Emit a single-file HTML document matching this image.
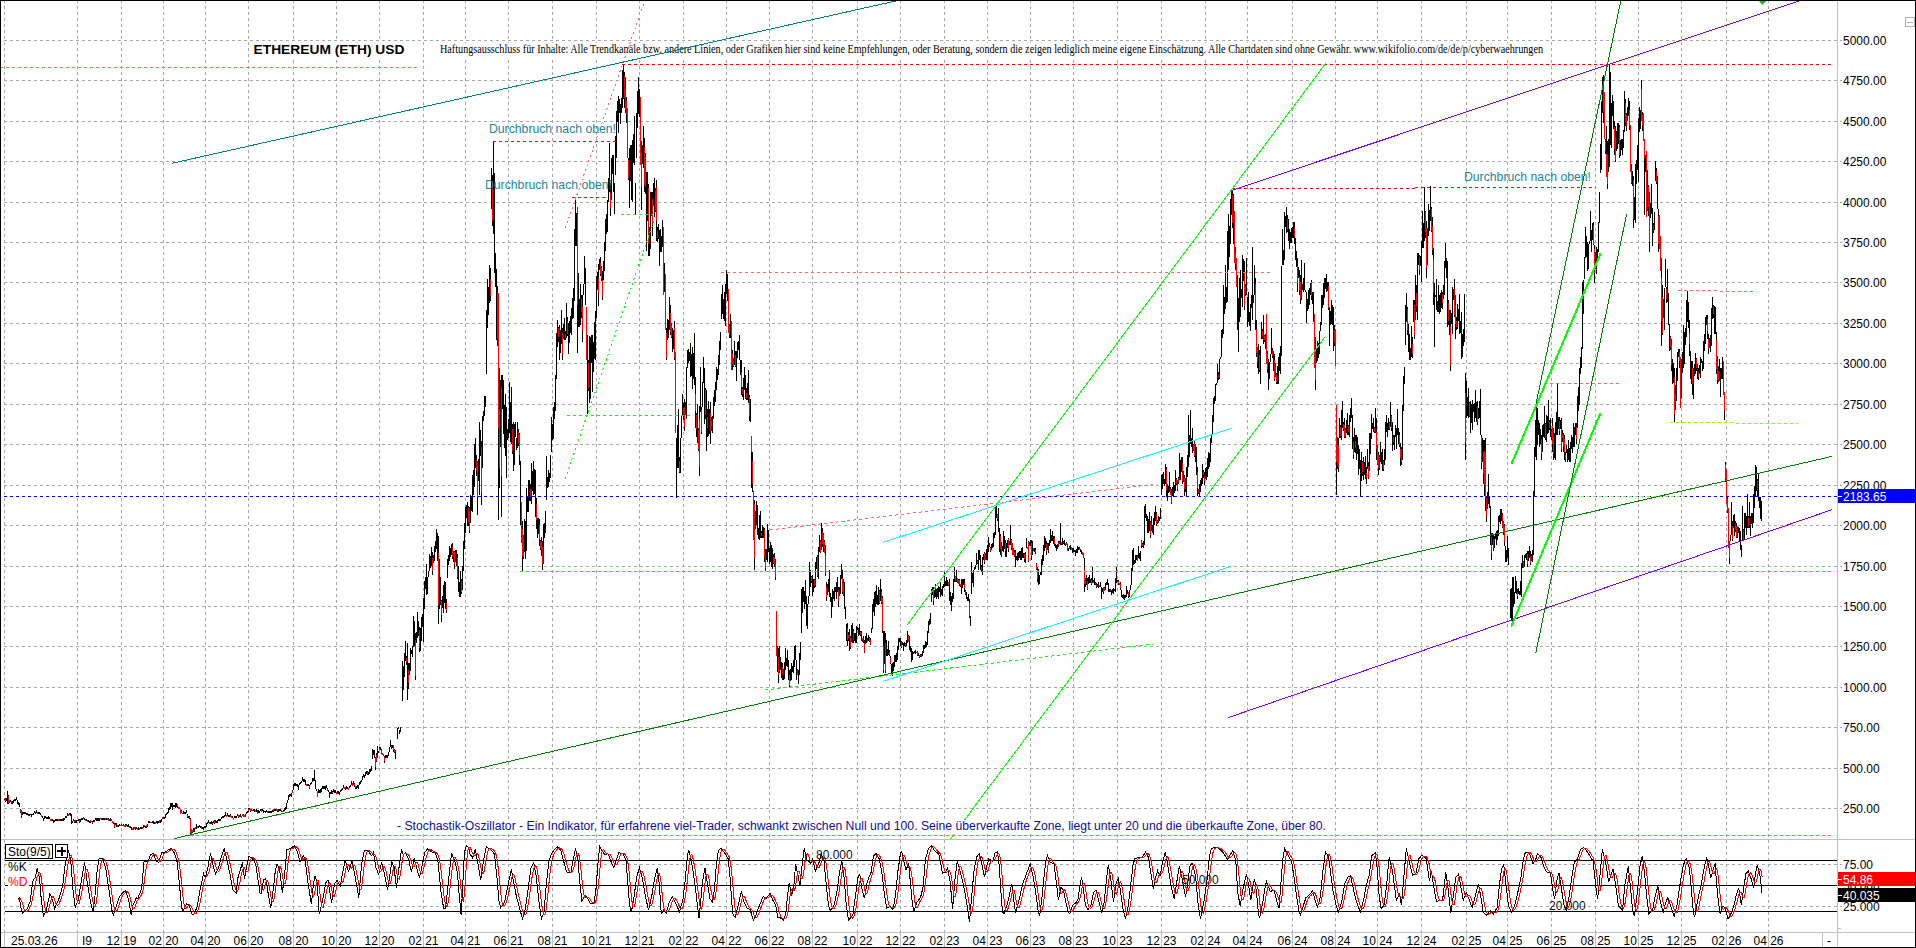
<!DOCTYPE html>
<html><head><meta charset="utf-8"><title>ETHEREUM (ETH) USD</title>
<style>html,body{margin:0;padding:0;background:#fff;overflow:hidden}svg{display:block}</style></head>
<body>
<svg width="1916" height="948" viewBox="0 0 1916 948" shape-rendering="crispEdges" font-family="Liberation Sans, sans-serif">
<rect x="0" y="0" width="1916" height="948" fill="#fff"/>
<line x1="4.5" y1="0" x2="4.5" y2="932" stroke="#a8a8a8" stroke-dasharray="3 3"/>
<line x1="77.5" y1="0" x2="77.5" y2="932" stroke="#a8a8a8" stroke-dasharray="3 3"/>
<line x1="121.5" y1="0" x2="121.5" y2="932" stroke="#a8a8a8" stroke-dasharray="3 3"/>
<line x1="163.5" y1="0" x2="163.5" y2="932" stroke="#a8a8a8" stroke-dasharray="3 3"/>
<line x1="205.5" y1="0" x2="205.5" y2="932" stroke="#a8a8a8" stroke-dasharray="3 3"/>
<line x1="248.5" y1="0" x2="248.5" y2="932" stroke="#a8a8a8" stroke-dasharray="3 3"/>
<line x1="293.5" y1="0" x2="293.5" y2="932" stroke="#a8a8a8" stroke-dasharray="3 3"/>
<line x1="336.5" y1="0" x2="336.5" y2="932" stroke="#a8a8a8" stroke-dasharray="3 3"/>
<line x1="379.5" y1="0" x2="379.5" y2="932" stroke="#a8a8a8" stroke-dasharray="3 3"/>
<line x1="423.5" y1="0" x2="423.5" y2="932" stroke="#a8a8a8" stroke-dasharray="3 3"/>
<line x1="465.5" y1="0" x2="465.5" y2="932" stroke="#a8a8a8" stroke-dasharray="3 3"/>
<line x1="508.5" y1="0" x2="508.5" y2="932" stroke="#a8a8a8" stroke-dasharray="3 3"/>
<line x1="552.5" y1="0" x2="552.5" y2="932" stroke="#a8a8a8" stroke-dasharray="3 3"/>
<line x1="596.5" y1="0" x2="596.5" y2="932" stroke="#a8a8a8" stroke-dasharray="3 3"/>
<line x1="639.5" y1="0" x2="639.5" y2="932" stroke="#a8a8a8" stroke-dasharray="3 3"/>
<line x1="683.5" y1="0" x2="683.5" y2="932" stroke="#a8a8a8" stroke-dasharray="3 3"/>
<line x1="726.5" y1="0" x2="726.5" y2="932" stroke="#a8a8a8" stroke-dasharray="3 3"/>
<line x1="769.5" y1="0" x2="769.5" y2="932" stroke="#a8a8a8" stroke-dasharray="3 3"/>
<line x1="812.5" y1="0" x2="812.5" y2="932" stroke="#a8a8a8" stroke-dasharray="3 3"/>
<line x1="857.5" y1="0" x2="857.5" y2="932" stroke="#a8a8a8" stroke-dasharray="3 3"/>
<line x1="900.5" y1="0" x2="900.5" y2="932" stroke="#a8a8a8" stroke-dasharray="3 3"/>
<line x1="944.5" y1="0" x2="944.5" y2="932" stroke="#a8a8a8" stroke-dasharray="3 3"/>
<line x1="987.5" y1="0" x2="987.5" y2="932" stroke="#a8a8a8" stroke-dasharray="3 3"/>
<line x1="1030.5" y1="0" x2="1030.5" y2="932" stroke="#a8a8a8" stroke-dasharray="3 3"/>
<line x1="1073.5" y1="0" x2="1073.5" y2="932" stroke="#a8a8a8" stroke-dasharray="3 3"/>
<line x1="1117.5" y1="0" x2="1117.5" y2="932" stroke="#a8a8a8" stroke-dasharray="3 3"/>
<line x1="1161.5" y1="0" x2="1161.5" y2="932" stroke="#a8a8a8" stroke-dasharray="3 3"/>
<line x1="1205.5" y1="0" x2="1205.5" y2="932" stroke="#a8a8a8" stroke-dasharray="3 3"/>
<line x1="1247.5" y1="0" x2="1247.5" y2="932" stroke="#a8a8a8" stroke-dasharray="3 3"/>
<line x1="1292.5" y1="0" x2="1292.5" y2="932" stroke="#a8a8a8" stroke-dasharray="3 3"/>
<line x1="1335.5" y1="0" x2="1335.5" y2="932" stroke="#a8a8a8" stroke-dasharray="3 3"/>
<line x1="1377.5" y1="0" x2="1377.5" y2="932" stroke="#a8a8a8" stroke-dasharray="3 3"/>
<line x1="1421.5" y1="0" x2="1421.5" y2="932" stroke="#a8a8a8" stroke-dasharray="3 3"/>
<line x1="1466.5" y1="0" x2="1466.5" y2="932" stroke="#a8a8a8" stroke-dasharray="3 3"/>
<line x1="1507.5" y1="0" x2="1507.5" y2="932" stroke="#a8a8a8" stroke-dasharray="3 3"/>
<line x1="1551.5" y1="0" x2="1551.5" y2="932" stroke="#a8a8a8" stroke-dasharray="3 3"/>
<line x1="1595.5" y1="0" x2="1595.5" y2="932" stroke="#a8a8a8" stroke-dasharray="3 3"/>
<line x1="1638.5" y1="0" x2="1638.5" y2="932" stroke="#a8a8a8" stroke-dasharray="3 3"/>
<line x1="1681.5" y1="0" x2="1681.5" y2="932" stroke="#a8a8a8" stroke-dasharray="3 3"/>
<line x1="1726.5" y1="0" x2="1726.5" y2="932" stroke="#a8a8a8" stroke-dasharray="3 3"/>
<line x1="1768.5" y1="0" x2="1768.5" y2="932" stroke="#a8a8a8" stroke-dasharray="3 3"/>
<line x1="4" y1="808.5" x2="1842" y2="808.5" stroke="#a8a8a8" stroke-dasharray="3 3"/>
<text x="1843" y="812.5" font-size="12" fill="#000">250.00</text>
<line x1="4" y1="768.5" x2="1842" y2="768.5" stroke="#a8a8a8" stroke-dasharray="3 3"/>
<text x="1843" y="772.5" font-size="12" fill="#000">500.00</text>
<line x1="4" y1="727.5" x2="1842" y2="727.5" stroke="#a8a8a8" stroke-dasharray="3 3"/>
<text x="1843" y="731.5" font-size="12" fill="#000">750.00</text>
<line x1="4" y1="687.5" x2="1842" y2="687.5" stroke="#a8a8a8" stroke-dasharray="3 3"/>
<text x="1843" y="691.5" font-size="12" fill="#000">1000.00</text>
<line x1="4" y1="646.5" x2="1842" y2="646.5" stroke="#a8a8a8" stroke-dasharray="3 3"/>
<text x="1843" y="650.5" font-size="12" fill="#000">1250.00</text>
<line x1="4" y1="606.5" x2="1842" y2="606.5" stroke="#a8a8a8" stroke-dasharray="3 3"/>
<text x="1843" y="610.5" font-size="12" fill="#000">1500.00</text>
<line x1="4" y1="566.5" x2="1842" y2="566.5" stroke="#a8a8a8" stroke-dasharray="3 3"/>
<text x="1843" y="570.5" font-size="12" fill="#000">1750.00</text>
<line x1="4" y1="525.5" x2="1842" y2="525.5" stroke="#a8a8a8" stroke-dasharray="3 3"/>
<text x="1843" y="529.5" font-size="12" fill="#000">2000.00</text>
<line x1="4" y1="485.5" x2="1842" y2="485.5" stroke="#a8a8a8" stroke-dasharray="3 3"/>
<text x="1843" y="489.5" font-size="12" fill="#000">2250.00</text>
<line x1="4" y1="444.5" x2="1842" y2="444.5" stroke="#a8a8a8" stroke-dasharray="3 3"/>
<text x="1843" y="448.5" font-size="12" fill="#000">2500.00</text>
<line x1="4" y1="404.5" x2="1842" y2="404.5" stroke="#a8a8a8" stroke-dasharray="3 3"/>
<text x="1843" y="408.5" font-size="12" fill="#000">2750.00</text>
<line x1="4" y1="363.5" x2="1842" y2="363.5" stroke="#a8a8a8" stroke-dasharray="3 3"/>
<text x="1843" y="367.5" font-size="12" fill="#000">3000.00</text>
<line x1="4" y1="323.5" x2="1842" y2="323.5" stroke="#a8a8a8" stroke-dasharray="3 3"/>
<text x="1843" y="327.5" font-size="12" fill="#000">3250.00</text>
<line x1="4" y1="282.5" x2="1842" y2="282.5" stroke="#a8a8a8" stroke-dasharray="3 3"/>
<text x="1843" y="286.5" font-size="12" fill="#000">3500.00</text>
<line x1="4" y1="242.5" x2="1842" y2="242.5" stroke="#a8a8a8" stroke-dasharray="3 3"/>
<text x="1843" y="246.5" font-size="12" fill="#000">3750.00</text>
<line x1="4" y1="202.5" x2="1842" y2="202.5" stroke="#a8a8a8" stroke-dasharray="3 3"/>
<text x="1843" y="206.5" font-size="12" fill="#000">4000.00</text>
<line x1="4" y1="161.5" x2="1842" y2="161.5" stroke="#a8a8a8" stroke-dasharray="3 3"/>
<text x="1843" y="165.5" font-size="12" fill="#000">4250.00</text>
<line x1="4" y1="121.5" x2="1842" y2="121.5" stroke="#a8a8a8" stroke-dasharray="3 3"/>
<text x="1843" y="125.5" font-size="12" fill="#000">4500.00</text>
<line x1="4" y1="80.5" x2="1842" y2="80.5" stroke="#a8a8a8" stroke-dasharray="3 3"/>
<text x="1843" y="84.5" font-size="12" fill="#000">4750.00</text>
<line x1="4" y1="40.5" x2="1842" y2="40.5" stroke="#a8a8a8" stroke-dasharray="3 3"/>
<text x="1843" y="44.5" font-size="12" fill="#000">5000.00</text>
<line x1="1" y1="839.5" x2="1915" y2="839.5" stroke="#c0c0c0"/>
<line x1="1" y1="932.5" x2="1915" y2="932.5" stroke="#c0c0c0"/>
<line x1="1837.5" y1="1" x2="1837.5" y2="947" stroke="#c0c0c0"/>
<line x1="1822.5" y1="932" x2="1822.5" y2="947" stroke="#c0c0c0"/>
<line x1="4" y1="864.5" x2="1842" y2="864.5" stroke="#a8a8a8" stroke-dasharray="3 3"/>
<line x1="4" y1="906.5" x2="1842" y2="906.5" stroke="#a8a8a8" stroke-dasharray="3 3"/>
<line x1="5" y1="860.5" x2="1837" y2="860.5" stroke="#000"/>
<line x1="5" y1="885.5" x2="1837" y2="885.5" stroke="#000"/>
<line x1="5" y1="911.5" x2="1837" y2="911.5" stroke="#000"/>
<path d="M4.5 798.5V799.6M5.5 798.3V801.5M6.5 797.8V801.0M7.5 790.6V804.3M8.5 794.9V804.3M9.5 800.0V802.5M10.5 799.5V802.0M11.5 800.7V803.8M12.5 801.3V803.5M13.5 800.3V803.1M14.5 799.1V801.1M15.5 798.8V800.8M16.5 797.0V799.6M17.5 800.1V804.3M18.5 802.3V805.3M19.5 803.3V807.0M20.5 809.1V812.8M21.5 810.1V817.5M22.5 811.6V814.8M23.5 812.4V814.4M24.5 811.7V813.8M25.5 812.1V813.8M26.5 813.0V815.0M27.5 813.3V815.4M28.5 813.6V816.2M29.5 813.9V815.9M30.5 813.5V815.1M31.5 813.8V816.8M32.5 813.6V815.4M33.5 812.8V815.1M34.5 811.2V813.2M35.5 812.3V814.1M36.5 809.8V812.8M37.5 811.9V813.9M38.5 812.0V814.0M39.5 812.2V814.2M40.5 813.3V815.4M41.5 815.1V817.1M42.5 815.8V817.8M43.5 817.5V821.0M44.5 815.7V818.9M45.5 815.7V818.3M46.5 816.9V818.7M47.5 817.2V819.1M48.5 816.0V819.2M49.5 817.0V819.3M50.5 818.5V820.5M51.5 818.7V820.7M52.5 819.0V821.0M53.5 820.2V822.8M54.5 819.7V821.7M55.5 819.1V820.8M56.5 819.1V821.2M57.5 819.1V821.4M58.5 819.1V821.1M59.5 819.1V821.4M60.5 819.1V821.1M61.5 819.1V821.4M62.5 818.5V820.5M63.5 817.8V821.0M64.5 817.8V820.4M65.5 816.2V818.2M66.5 815.6V817.6M67.5 813.3V815.9M68.5 814.1V815.9M69.5 812.8V815.1M70.5 813.2V815.8M71.5 813.8V823.9M72.5 820.5V822.5M73.5 818.9V820.8M74.5 819.5V822.7M75.5 820.2V822.5M76.5 820.1V822.5M77.5 819.5V821.3M78.5 819.3V821.3M79.5 819.3V822.5M80.5 819.3V821.9M81.5 817.9V819.9M82.5 818.0V820.0M83.5 817.0V819.3M84.5 818.4V820.4M85.5 818.5V820.5M86.5 818.6V820.6M87.5 819.6V821.8M88.5 820.2V822.2M89.5 820.5V822.5M90.5 819.8V823.0M91.5 820.5V822.1M92.5 821.2V824.2M93.5 819.9V821.9M94.5 819.7V821.7M95.5 818.1V820.4M96.5 818.1V820.7M97.5 818.3V820.9M98.5 818.1V821.0M99.5 818.3V821.0M100.5 817.6V819.3M101.5 818.3V820.0M102.5 817.8V819.8M103.5 817.5V819.6M104.5 817.5V819.6M105.5 817.5V819.5M106.5 817.5V819.5M107.5 817.5V819.6M108.5 818.2V821.4M109.5 818.9V820.9M110.5 818.2V821.4M111.5 819.1V821.4M112.5 821.1V823.1M113.5 821.7V823.7M114.5 823.3V828.1M115.5 823.3V825.0M116.5 823.3V826.5M117.5 824.5V826.5M118.5 824.6V827.2M119.5 823.9V826.0M120.5 825.1V826.3M121.5 823.9V826.3M122.5 824.9V826.3M123.5 824.4V826.3M124.5 825.4V826.6M125.5 824.4V826.5M126.5 824.4V825.9M127.5 825.0V826.5M128.5 824.4V826.5M129.5 825.7V827.7M130.5 825.8V827.8M131.5 827.0V829.9M132.5 827.6V829.9M133.5 827.0V829.9M134.5 827.3V829.0M135.5 827.0V829.6M136.5 827.0V829.1M137.5 827.6V829.6M138.5 827.0V830.2M139.5 828.1V830.2M140.5 826.9V828.9M141.5 826.8V828.8M142.5 826.7V828.7M143.5 825.4V827.6M144.5 824.5V827.1M145.5 825.7V827.6M146.5 824.5V827.6M147.5 824.4V827.3M148.5 820.7V823.3M149.5 820.7V823.3M150.5 821.6V823.3M151.5 821.9V823.3M152.5 821.2V823.3M153.5 821.2V823.8M154.5 822.1V823.9M155.5 822.1V823.8M156.5 821.2V823.2M157.5 821.2V823.9M158.5 820.5V822.6M159.5 820.2V823.4M160.5 820.2V823.4M161.5 818.6V821.8M162.5 817.3V819.3M163.5 817.1V819.1M164.5 816.8V818.8M165.5 814.4V817.5M166.5 812.8V814.8M167.5 812.3V814.3M168.5 807.5V812.8M169.5 806.8V809.5M170.5 803.3V808.6M171.5 803.3V807.0M172.5 803.3V809.6M173.5 804.9V807.2M174.5 804.6V807.4M175.5 803.3V807.5M176.5 803.3V806.5M177.5 803.8V807.5M178.5 806.9V808.9M179.5 807.2V809.2M180.5 808.6V814.4M181.5 810.2V812.8M182.5 812.6V814.4M183.5 811.2V814.4M184.5 811.5V814.0M185.5 812.1V814.4M186.5 809.6V813.3M187.5 814.4V817.5M188.5 815.7V818.2M189.5 815.9V819.1M190.5 817.5V833.9M191.5 828.6V834.1M192.5 829.6V832.8M193.5 827.6V832.0M194.5 828.1V831.8M195.5 826.5V829.4M196.5 823.9V828.9M197.5 825.9V828.2M198.5 825.8V827.8M199.5 825.4V827.4M200.5 825.7V828.2M201.5 825.7V828.9M202.5 826.5V828.5M203.5 827.0V829.5M204.5 825.8V828.4M205.5 826.4V828.4M206.5 823.2V827.0M207.5 822.0V824.0M208.5 820.0V822.8M209.5 821.5V823.7M210.5 821.7V823.9M211.5 821.1V823.7M212.5 821.9V824.8M213.5 820.5V822.7M214.5 820.4V823.6M215.5 820.3V822.9M216.5 820.5V822.7M217.5 819.7V822.5M218.5 818.7V820.7M219.5 818.6V820.6M220.5 818.5V820.5M221.5 816.8V819.4M222.5 815.7V817.7M223.5 815.5V817.5M224.5 815.4V817.4M225.5 812.4V816.2M226.5 814.8V816.8M227.5 813.0V816.2M228.5 814.5V816.8M229.5 814.7V816.7M230.5 814.3V816.8M231.5 816.0V818.0M232.5 816.3V818.3M233.5 817.5V820.0M234.5 816.2V818.2M235.5 815.8V817.8M236.5 815.5V817.5M237.5 813.7V816.2M238.5 814.9V817.5M239.5 815.3V817.3M240.5 814.3V816.9M241.5 815.6V818.1M242.5 814.4V816.4M243.5 814.4V817.0M244.5 815.1V817.2M245.5 813.7V816.5M246.5 812.0V814.0M247.5 811.4V813.4M248.5 808.0V811.8M249.5 808.3V810.0M250.5 808.7V811.8M251.5 809.0V810.6M252.5 809.6V811.3M253.5 808.6V810.6M254.5 808.6V811.8M255.5 809.8V811.8M256.5 808.6V811.8M257.5 810.1V813.7M258.5 809.8V813.0M259.5 810.6V812.6M260.5 809.1V811.0M261.5 809.1V811.7M262.5 809.1V811.4M263.5 809.6V812.8M264.5 810.6V812.4M265.5 810.7V812.7M266.5 810.1V811.9M267.5 810.9V813.4M268.5 811.0V813.0M269.5 811.0V813.0M270.5 810.5V812.5M271.5 810.5V813.1M272.5 809.6V812.2M273.5 808.9V811.5M274.5 809.1V811.1M275.5 808.6V810.6M276.5 808.6V810.6M277.5 808.6V811.6M278.5 808.8V811.6M279.5 809.3V811.3M280.5 809.0V810.6M281.5 809.6V811.6M282.5 810.5V811.7M283.5 810.2V811.6M284.5 808.0V811.4M285.5 807.1V809.9M286.5 802.9V808.6M287.5 799.7V802.9M288.5 795.3V799.7M289.5 794.4V796.5M290.5 794.4V796.4M291.5 792.8V797.2M292.5 789.6V792.8M293.5 783.9V789.6M294.5 782.7V785.9M295.5 782.7V785.8M296.5 783.6V786.2M297.5 784.0V786.6M298.5 785.2V789.6M299.5 783.0V785.2M300.5 781.9V784.1M301.5 780.8V783.0M302.5 777.0V780.8M303.5 778.9V781.9M304.5 778.9V781.9M305.5 780.1V784.6M306.5 783.7V785.7M307.5 783.9V785.9M308.5 784.0V786.0M309.5 785.2V789.0M310.5 783.1V785.2M311.5 782.0V784.1M312.5 777.6V782.0M313.5 777.9V780.6M314.5 770.0V780.8M315.5 779.5V789.0M316.5 788.9V790.9M317.5 790.9V797.2M318.5 789.3V792.5M319.5 789.5V792.6M320.5 789.4V792.6M321.5 787.7V791.5M322.5 786.1V789.1M323.5 785.9V788.9M324.5 786.1V789.3M325.5 786.4V789.5M326.5 784.6V788.4M327.5 788.4V790.9M328.5 789.6V792.2M329.5 792.2V797.5M330.5 791.5V793.9M331.5 790.4V793.6M332.5 791.4V794.0M333.5 789.4V792.4M334.5 790.0V793.2M335.5 790.3V792.9M336.5 791.6V794.2M337.5 791.3V793.8M338.5 791.0V793.6M339.5 791.9V794.9M340.5 790.0V792.0M341.5 789.1V791.1M342.5 788.2V790.2M343.5 784.8V788.4M344.5 786.9V788.9M345.5 786.8V790.0M346.5 786.2V789.4M347.5 786.9V788.9M348.5 787.7V790.3M349.5 785.6V787.7M350.5 784.6V786.7M351.5 780.8V784.6M352.5 782.6V785.8M353.5 781.4V784.6M354.5 783.3V787.1M355.5 785.5V788.5M356.5 785.5V788.7M357.5 785.3V788.3M358.5 785.2V789.0M359.5 782.3V785.2M360.5 780.9V783.8M361.5 779.5V782.3M362.5 775.7V779.5M363.5 774.4V777.4M364.5 774.7V777.7M365.5 771.9V775.7M366.5 770.8V774.0M367.5 771.4V774.6M368.5 772.0V775.2M369.5 769.4V773.8M370.5 768.7V771.5M371.5 765.6V770.6M372.5 748.5V759.2M373.5 750.4V754.7M374.5 750.4V758.0M375.5 756.7V770.0M376.5 753.2V761.6M377.5 745.9V758.0M378.5 750.8V753.4M379.5 747.2V749.9M380.5 747.4V750.0M381.5 748.5V753.5M382.5 753.4V755.4M383.5 754.2V756.2M384.5 756.1V763.0M385.5 754.8V757.8M386.5 754.9V757.9M387.5 754.8V757.9M388.5 752.3V756.1M389.5 747.2V752.3M390.5 739.6V747.2M391.5 744.8V748.6M392.5 744.8V748.2M393.5 744.7V751.6M394.5 749.4V753.0M395.5 749.7V759.2M397.5 727.6V739.0M398.5 727.0V729.1M399.5 729.7V733.6M400.5 727.0V732.0M402.5 660.9V700.8M403.5 665.9V690.0M404.5 653.3V677.3M405.5 641.3V660.9M406.5 655.6V664.7M407.5 643.2V699.5M408.5 663.4V688.7M409.5 663.0V674.6M410.5 648.2V671.0M411.5 649.7V654.2M412.5 646.3V657.1M413.5 615.9V647.0M414.5 621.0V645.7M415.5 633.0V679.9M416.5 631.5V643.3M417.5 612.2V638.1M418.5 621.4V635.6M419.5 626.7V652.0M420.5 628.0V650.8M421.5 617.2V640.6M422.5 613.9V627.1M423.5 598.2V641.9M424.5 581.4V609.2M425.5 577.0V588.9M426.5 563.7V595.1M427.5 577.3V593.8M428.5 571.3V577.3M429.5 553.5V571.3M430.5 556.1V568.3M431.5 547.2V566.2M432.5 552.3V575.1M433.5 554.6V563.2M434.5 545.9V561.1M435.5 540.5V552.1M436.5 528.9V548.5M437.5 533.3V561.1M438.5 535.8V623.5M439.5 558.6V609.2M440.5 577.3V605.2M441.5 600.1V621.6M442.5 596.1V607.5M443.5 584.9V613.4M444.5 581.4V602.9M445.5 582.4V609.0M446.5 598.9V613.4M447.5 558.6V577.6M448.5 555.2V564.6M449.5 545.9V561.1M450.5 548.3V556.5M451.5 543.5V555.4M452.5 542.8V558.6M453.5 551.2V561.9M454.5 551.0V568.7M455.5 549.7V561.5M456.5 549.7V566.2M457.5 553.5V578.9M458.5 566.2V591.5M459.5 582.4V597.0M460.5 571.3V596.6M461.5 578.6V593.8M462.5 566.2V590.0M463.5 540.9V571.3M464.5 523.2V548.5M465.5 506.7V533.3M466.5 504.9V517.6M467.5 501.6V525.7M468.5 506.3V526.2M469.5 506.7V533.3M470.5 495.0V523.2M471.5 496.2V511.1M472.5 474.8V511.8M473.5 470.0V495.3M474.5 444.4V486.6M475.5 437.6V468.0M476.5 454.8V476.3M477.5 461.3V515.3M478.5 459.1V480.9M479.5 421.6V495.0M480.5 429.9V456.3M481.5 441.0V505.1M482.5 415.7V468.0M483.5 410.8V420.6M484.5 396.3V415.7M485.5 396.3V407.3M486.5 309.7V374.3M487.5 279.3V328.3M488.5 286.8V314.9M489.5 265.0V303.0M490.5 267.5V301.3M491.5 168.3V208.8M492.5 175.0V225.7M493.5 141.3V234.1M494.5 173.3V272.6M495.5 253.2V286.7M496.5 269.2V340.1M497.5 285.9V345.5M498.5 292.8V520.0M499.5 368.4V488.3M500.5 379.9V447.0M501.5 375.2V517.0M502.5 375.2V408.8M503.5 380.3V434.3M504.5 404.9V447.6M505.5 393.8V456.2M506.5 407.3V478.1M507.5 428.8V439.9M508.5 419.1V437.6M509.5 381.9V432.6M510.5 402.4V441.7M511.5 387.0V444.4M512.5 424.2V453.5M513.5 422.4V471.4M514.5 424.1V464.6M515.5 422.4V437.0M516.5 438.0V449.8M517.5 422.4V447.8M518.5 428.5V445.5M519.5 432.6V464.6M520.5 461.3V525.4M521.5 501.6V542.8M522.5 520.6V571.3M523.5 534.6V559.0M524.5 519.4V552.3M525.5 520.6V558.6M526.5 488.3V551.0M527.5 496.0V511.5M528.5 479.8V511.9M529.5 480.1V501.4M530.5 483.9V501.4M531.5 463.0V503.5M532.5 471.1V491.2M533.5 461.3V495.0M534.5 468.5V494.4M535.5 469.7V516.8M536.5 498.4V528.8M537.5 518.1V538.4M538.5 518.1V533.7M539.5 519.4V545.9M540.5 540.0V550.3M541.5 537.1V556.1M542.5 540.9V570.0M543.5 524.4V563.7M544.5 523.2V538.0M545.5 511.1V533.3M546.5 456.2V500.1M547.5 477.3V487.9M548.5 469.7V486.6M549.5 472.5V481.8M550.5 454.5V478.1M551.5 417.4V452.0M552.5 423.8V439.8M553.5 407.3V439.3M554.5 401.5V419.1M555.5 375.2V410.6M556.5 333.3V378.6M557.5 319.8V346.8M558.5 327.2V341.9M559.5 324.9V360.3M560.5 330.4V352.9M561.5 309.7V343.5M562.5 328.3V360.3M563.5 323.8V339.3M564.5 318.1V340.1M565.5 331.2V340.1M566.5 303.0V338.4M567.5 317.4V335.8M568.5 323.2V353.6M569.5 320.5V343.1M570.5 315.7V332.7M571.5 308.0V335.0M572.5 297.8V318.7M573.5 287.8V318.1M574.5 228.7V301.3M575.5 200.0V245.6M576.5 213.4V245.5M577.5 206.8V352.7M578.5 272.6V326.6M579.5 299.0V326.6M580.5 284.4V324.9M581.5 294.9V317.8M582.5 294.5V341.8M583.5 284.4V294.5M584.5 255.7V284.4M585.5 267.5V304.6M586.5 307.2V360.3M587.5 335.0V414.3M588.5 359.6V390.9M589.5 335.9V402.5M590.5 336.7V399.2M591.5 335.0V362.6M592.5 335.0V392.4M593.5 341.9V371.5M594.5 321.9V359.4M595.5 311.4V360.3M596.5 275.9V318.1M597.5 271.8V289.8M598.5 264.1V306.3M599.5 259.2V269.6M600.5 256.5V275.9M601.5 265.5V280.6M602.5 270.9V299.6M603.5 261.4V280.4M604.5 242.2V270.9M605.5 219.4V250.6M606.5 213.6V233.7M607.5 200.0V232.1M608.5 178.4V202.0M609.5 143.0V191.9M610.5 183.1V216.0M611.5 158.1V200.0M612.5 154.8V174.2M613.5 154.8V191.9M614.5 183.1V214.3M615.5 136.2V175.0M616.5 110.9V158.1M617.5 101.4V121.5M618.5 95.7V132.8M619.5 99.1V113.1M620.5 104.1V124.4M621.5 97.8V113.3M622.5 70.4V107.5M623.5 63.6V99.1M624.5 72.1V107.5M625.5 77.1V112.6M626.5 97.2V122.8M627.5 107.5V158.1M628.5 158.1V180.1M629.5 148.0V207.6M630.5 145.1V180.6M631.5 144.6V200.0M632.5 139.6V202.0M633.5 133.6V163.3M634.5 115.9V164.9M635.5 183.1V214.3M636.5 112.6V158.1M637.5 90.6V127.8M638.5 77.1V114.3M639.5 88.8V117.2M640.5 97.4V164.9M641.5 141.3V210.1M642.5 144.7V164.2M643.5 126.1V168.3M644.5 137.9V191.9M645.5 152.5V193.7M646.5 171.6V251.0M647.5 171.6V220.9M648.5 183.5V256.0M649.5 227.2V256.0M650.5 191.9V249.3M651.5 191.9V216.3M652.5 191.9V235.8M653.5 182.9V205.5M654.5 177.6V217.2M655.5 188.1V212.3M656.5 180.1V240.8M657.5 226.9V241.5M658.5 224.4V238.7M659.5 230.4V265.8M660.5 228.7V252.3M661.5 236.1V252.3M662.5 220.3V247.3M663.5 227.0V294.5M664.5 263.3V291.8M665.5 274.3V330.0M666.5 328.3V360.0M667.5 318.5V340.3M668.5 320.3V337.6M669.5 297.0V330.0M670.5 304.6V335.0M671.5 322.6V337.7M672.5 328.3V351.9M673.5 330.0V348.8M674.5 320.7V360.0M675.5 351.9V432.9M676.5 437.6V498.4M677.5 425.3V468.4M678.5 408.9V468.0M679.5 457.2V473.1M680.5 437.6V473.1M681.5 415.7V437.6M682.5 393.8V415.7M683.5 402.6V420.4M684.5 398.8V430.9M685.5 402.0V415.1M686.5 366.8V419.1M687.5 349.9V368.4M688.5 348.6V362.7M689.5 352.0V361.1M690.5 343.1V376.9M691.5 353.5V375.9M692.5 346.5V388.7M693.5 353.3V379.2M694.5 333.0V385.3M695.5 376.9V427.5M696.5 413.4V436.6M697.5 403.9V442.7M698.5 428.1V450.7M699.5 405.6V475.6M700.5 366.5V412.0M701.5 407.3V434.3M702.5 381.9V407.3M703.5 356.6V383.3M704.5 368.1V424.1M705.5 388.4V418.8M706.5 390.4V451.1M707.5 408.5V437.0M708.5 401.1V435.7M709.5 408.7V433.7M710.5 401.9V444.4M711.5 417.3V430.5M712.5 415.7V432.6M713.5 396.8V418.8M714.5 390.4V405.6M715.5 381.6V401.9M716.5 366.5V390.1M717.5 368.6V380.4M718.5 354.6V374.9M719.5 341.1V364.8M720.5 331.9V349.6M721.5 293.9V319.2M722.5 285.4V314.1M723.5 299.1V319.1M724.5 292.2V320.9M725.5 283.8V325.9M726.5 269.9V293.9M727.5 273.6V300.6M728.5 288.8V332.7M729.5 324.3V337.8M730.5 314.1V337.8M731.5 320.9V369.8M732.5 349.6V369.8M733.5 358.2V367.2M734.5 341.1V364.8M735.5 351.3V366.5M736.5 351.3V380.8M737.5 342.0V358.0M738.5 340.8V350.1M739.5 335.2V359.7M740.5 359.7V374.9M741.5 359.7V395.1M742.5 386.7V396.8M743.5 378.3V400.2M744.5 367.3V390.1M745.5 374.9V398.5M746.5 388.3V400.2M747.5 383.3V400.2M748.5 369.8V402.5M749.5 394.9V421.1M750.5 398.5V422.2M751.5 436.3V487.8M752.5 452.3V492.0M753.5 491.1V540.1M754.5 499.6V570.0M755.5 511.0V528.7M756.5 501.3V524.9M757.5 504.6V535.0M758.5 528.1V538.9M759.5 514.8V540.1M760.5 511.4V538.4M761.5 531.3V538.4M762.5 524.9V538.4M763.5 527.4V538.3M764.5 528.3V561.9M765.5 548.5V571.2M766.5 548.9V559.6M767.5 524.1V561.9M768.5 530.0V551.9M769.5 548.4V563.6M770.5 541.8V562.0M771.5 545.0V566.9M772.5 548.4V568.6M773.5 553.7V564.4M774.5 553.4V566.9M775.5 558.5V579.6M776.5 610.8V656.4M777.5 646.3V671.6M778.5 648.0V683.4M779.5 646.3V673.3M780.5 656.9V669.5M781.5 661.5V678.3M782.5 663.1V680.0M783.5 669.3V680.0M784.5 661.5V679.2M785.5 648.0V669.9M786.5 658.3V666.0M787.5 649.6V666.5M788.5 659.8V680.0M789.5 669.9V687.6M790.5 669.4V680.8M791.5 663.1V680.0M792.5 666.1V671.8M793.5 659.8V673.3M794.5 646.3V666.5M795.5 644.6V659.8M796.5 659.8V680.0M797.5 668.6V675.3M798.5 669.9V683.7M799.5 653.0V675.0M800.5 642.0V659.8M801.5 588.9V632.8M802.5 587.2V612.5M803.5 587.2V602.3M804.5 590.6V609.1M805.5 580.4V604.1M806.5 595.6V626.0M807.5 604.1V628.5M808.5 595.6V604.1M809.5 561.9V595.6M810.5 570.3V587.2M811.5 575.7V583.4M812.5 575.4V595.6M813.5 578.8V592.3M814.5 578.6V587.8M815.5 561.9V587.2M816.5 557.0V568.8M817.5 555.1V577.1M818.5 546.7V578.8M819.5 535.0V551.9M820.5 539.9V553.4M821.5 523.2V550.1M822.5 528.1V546.7M823.5 533.3V551.9M824.5 539.9V553.4M825.5 545.1V576.2M826.5 582.1V600.7M827.5 583.8V594.6M828.5 578.8V592.3M829.5 570.3V597.3M830.5 592.9V601.7M831.5 597.3V617.6M832.5 588.9V607.4M833.5 590.5V599.2M834.5 587.2V600.7M835.5 586.7V592.2M836.5 582.1V599.0M837.5 577.1V592.3M838.5 587.2V606.6M839.5 587.3V596.3M840.5 575.4V593.9M841.5 564.4V578.8M842.5 570.3V593.9M843.5 578.5V596.2M844.5 582.1V609.1M845.5 607.4V619.3M846.5 624.3V641.2M847.5 622.6V646.3M848.5 632.0V640.8M849.5 629.4V650.5M850.5 635.9V648.5M851.5 625.2V642.1M852.5 622.6V642.9M853.5 629.4V642.9M854.5 633.0V640.8M855.5 632.7V642.9M856.5 626.0V642.9M857.5 626.5V630.1M858.5 627.7V636.1M859.5 624.3V634.5M860.5 631.0V635.7M861.5 631.1V641.2M862.5 637.5V642.3M863.5 636.1V642.9M864.5 639.5V653.0M865.5 636.1V643.7M866.5 632.8V642.9M867.5 638.3V642.3M868.5 634.5V641.2M869.5 637.0V641.9M870.5 637.8V644.6M871.5 627.7V632.8M872.5 604.1V629.4M873.5 599.1V611.7M874.5 592.3V615.9M875.5 590.6V607.4M876.5 584.7V604.1M877.5 595.0V604.9M878.5 587.2V604.9M879.5 590.0V603.8M880.5 578.8V600.7M881.5 588.9V604.1M882.5 595.6V632.8M883.5 631.1V673.3M884.5 631.1V663.7M885.5 632.8V673.3M886.5 639.5V656.4M887.5 649.3V656.4M888.5 641.2V654.7M889.5 649.6V656.4M890.5 656.4V664.0M891.5 664.0V673.3M892.5 663.1V675.8M893.5 662.0V670.7M894.5 654.7V666.5M895.5 655.3V661.6M896.5 653.0V661.5M897.5 646.3V659.8M898.5 637.8V649.6M899.5 637.8V641.5M900.5 637.8V646.3M901.5 641.2V648.0M902.5 641.5V645.4M903.5 642.9V650.5M904.5 642.0V645.6M905.5 643.0V647.1M906.5 639.5V646.3M907.5 631.1V642.9M908.5 635.2V642.3M909.5 636.1V649.6M910.5 646.0V652.0M911.5 648.0V661.5M912.5 651.3V659.8M913.5 652.0V653.9M914.5 650.8V652.8M915.5 649.6V653.9M916.5 651.6V653.4M917.5 651.3V656.4M918.5 653.0V655.7M919.5 654.7V658.1M920.5 654.0V656.7M921.5 654.0V656.7M922.5 651.3V655.5M923.5 644.6V653.0M924.5 644.6V648.9M925.5 641.2V648.0M926.5 641.5V646.5M927.5 631.1V644.6M928.5 620.9V632.8M929.5 618.9V625.2M930.5 613.4V624.3M931.5 588.9V602.4M932.5 587.2V595.1M933.5 587.2V604.9M934.5 590.4V598.2M935.5 583.8V597.3M936.5 589.2V599.0M937.5 588.0V597.4M938.5 585.5V599.0M939.5 586.7V592.2M940.5 582.1V597.3M941.5 589.3V594.9M942.5 585.5V595.6M943.5 583.9V588.4M944.5 572.0V587.2M945.5 581.1V586.4M946.5 577.1V585.5M947.5 579.6V586.1M948.5 581.9V585.9M949.5 578.8V600.7M950.5 592.3V604.5M951.5 595.6V610.8M952.5 593.1V601.6M953.5 578.8V599.0M954.5 566.9V582.1M955.5 576.0V581.5M956.5 570.3V582.1M957.5 577.6V583.3M958.5 579.1V584.0M959.5 578.8V585.5M960.5 583.5V586.8M961.5 578.8V593.9M962.5 578.8V588.0M963.5 579.1V585.0M964.5 578.8V592.3M965.5 590.0V594.5M966.5 592.3V599.0M967.5 596.8V600.5M968.5 593.9V600.7M969.5 599.0V617.6M970.5 615.9V626.0M971.5 561.9V593.9M972.5 573.4V582.9M973.5 570.3V587.2M974.5 566.9V570.3M975.5 565.3V568.6M976.5 553.4V565.3M977.5 559.9V563.7M978.5 550.1V570.3M979.5 550.2V560.0M980.5 555.1V569.5M981.5 565.0V571.6M982.5 556.8V575.4M983.5 553.6V560.3M984.5 551.8V563.6M985.5 552.7V560.1M986.5 548.5V560.0M987.5 545.0V560.2M988.5 536.7V551.9M989.5 543.0V547.4M990.5 547.4V551.9M991.5 543.5V550.2M992.5 542.9V548.1M993.5 533.3V546.8M994.5 531.7V537.8M995.5 506.3V535.0M996.5 505.5V518.1M997.5 513.7V520.5M998.5 508.0V531.6M999.5 528.3V551.9M1000.5 534.4V554.6M1001.5 541.6V556.8M1002.5 546.1V551.2M1003.5 531.0V551.9M1004.5 535.7V548.8M1005.5 539.5V557.0M1006.5 543.3V556.8M1007.5 539.6V548.3M1008.5 538.4V551.9M1009.5 541.4V544.9M1010.5 525.1V544.5M1011.5 539.0V549.7M1012.5 542.5V555.1M1013.5 547.9V555.0M1014.5 549.9V557.0M1015.5 550.1V566.9M1016.5 555.5V560.4M1017.5 553.0V561.4M1018.5 551.8V560.2M1019.5 551.3V557.7M1020.5 551.3V559.7M1021.5 548.4V560.2M1022.5 547.0V558.0M1023.5 553.1V557.6M1024.5 553.0V562.2M1025.5 551.8V562.7M1026.5 537.8V547.9M1027.5 547.1V549.1M1028.5 541.1V561.9M1029.5 542.4V546.4M1030.5 540.3V545.8M1031.5 540.3V560.2M1032.5 541.1V554.6M1033.5 547.6V551.3M1034.5 547.9V551.8M1035.5 547.9V553.8M1036.5 562.7V570.3M1037.5 566.5V581.6M1038.5 568.6V584.7M1039.5 574.9V584.2M1040.5 572.0V574.9M1041.5 558.5V574.9M1042.5 554.5V565.0M1043.5 545.0V561.4M1044.5 536.1V551.3M1045.5 538.3V547.8M1046.5 541.1V555.1M1047.5 543.4V550.4M1048.5 542.8V553.0M1049.5 539.7V545.9M1050.5 529.3V542.8M1051.5 534.5V541.4M1052.5 531.0V541.1M1053.5 536.1V543.6M1054.5 536.1V546.2M1055.5 544.1V548.3M1056.5 544.5V551.3M1057.5 544.4V549.0M1058.5 541.1V547.0M1059.5 540.9V544.3M1060.5 522.6V544.5M1061.5 541.7V544.5M1062.5 537.8V544.5M1063.5 540.5V543.7M1064.5 539.5V544.5M1065.5 542.9V545.9M1066.5 542.3V545.1M1067.5 543.7V551.3M1068.5 547.6V550.7M1069.5 546.3V549.4M1070.5 545.4V549.6M1071.5 546.8V550.0M1072.5 547.9V553.0M1073.5 548.1V551.5M1074.5 549.9V552.2M1075.5 549.6V555.5M1076.5 549.1V552.8M1077.5 546.2V553.0M1078.5 546.8V549.5M1079.5 547.0V550.4M1080.5 548.9V551.6M1081.5 549.6V553.8M1082.5 552.0V555.4M1083.5 553.0V558.0M1084.5 558.0V591.8M1085.5 578.0V586.6M1086.5 574.9V585.0M1087.5 578.3V590.1M1088.5 576.8V583.5M1089.5 574.9V583.3M1090.5 578.9V583.3M1091.5 578.3V585.0M1092.5 566.5V583.3M1093.5 580.0V583.2M1094.5 578.3V585.0M1095.5 582.0V585.0M1096.5 583.3V588.4M1097.5 584.4V586.6M1098.5 581.6V587.6M1099.5 585.0V587.3M1100.5 581.6V586.7M1101.5 586.7V599.4M1102.5 587.5V592.0M1103.5 586.7V593.5M1104.5 587.4V591.0M1105.5 583.3V590.1M1106.5 582.4V584.8M1107.5 579.1V585.0M1108.5 583.3V591.8M1109.5 589.3V592.4M1110.5 588.7V591.9M1111.5 590.1V595.1M1112.5 589.1V592.7M1113.5 588.4V593.5M1114.5 588.6V591.3M1115.5 578.3V591.8M1116.5 566.5V583.3M1117.5 579.7V582.4M1118.5 580.0V585.0M1119.5 583.1V585.4M1120.5 581.6V590.1M1121.5 590.1V596.8M1122.5 594.5V598.3M1123.5 593.5V598.5M1124.5 595.1V600.2M1125.5 595.4V597.8M1126.5 585.9V596.8M1127.5 590.0V594.2M1128.5 591.8V597.7M1129.5 590.1V596.8M1130.5 585.0V590.1M1131.5 568.1V585.0M1132.5 549.6V571.5M1133.5 547.9V564.8M1134.5 559.6V564.2M1135.5 554.6V563.1M1136.5 554.6V560.1M1137.5 554.6V561.4M1138.5 546.2V558.0M1139.5 552.8V559.2M1140.5 551.3V560.5M1141.5 539.5V547.9M1142.5 542.5V546.9M1143.5 541.1V547.9M1144.5 505.7V544.5M1145.5 504.0V517.5M1146.5 514.0V520.8M1147.5 515.8V532.7M1148.5 518.6V532.7M1149.5 512.4V531.0M1150.5 520.9V537.8M1151.5 515.8V531.0M1152.5 524.5V532.6M1153.5 517.5V535.2M1154.5 512.1V524.8M1155.5 505.7V520.9M1156.5 512.4V525.9M1157.5 519.8V523.7M1158.5 515.8V522.6M1159.5 517.2V520.9M1160.5 508.2V519.2M1161.5 475.3V494.7M1162.5 473.6V488.8M1163.5 472.1V483.5M1164.5 478.7V486.0M1165.5 463.5V483.8M1166.5 466.9V497.3M1167.5 483.8V500.6M1168.5 485.8V493.4M1169.5 471.9V492.2M1170.5 487.3V495.2M1171.5 488.8V504.0M1172.5 486.6V496.1M1173.5 482.1V497.3M1174.5 484.9V492.8M1175.5 470.3V490.5M1176.5 478.3V484.8M1177.5 480.4V490.5M1178.5 477.2V483.6M1179.5 453.4V480.4M1180.5 460.1V479.5M1181.5 456.8V472.3M1182.5 456.8V483.8M1183.5 471.4V481.5M1184.5 475.3V495.6M1185.5 477.6V491.8M1186.5 466.9V496.4M1187.5 455.1V477.0M1188.5 414.8V466.9M1189.5 434.8V456.8M1190.5 409.7V443.5M1191.5 437.7V447.2M1192.5 428.3V453.4M1193.5 444.1V451.4M1194.5 439.9V456.8M1195.5 443.5V462.0M1196.5 446.6V475.3M1197.5 466.9V496.4M1198.5 488.6V493.7M1199.5 483.8V496.4M1200.5 480.4V492.2M1201.5 478.0V485.6M1202.5 463.5V483.8M1203.5 469.5V478.3M1204.5 471.9V485.4M1205.5 467.8V479.2M1206.5 466.9V480.4M1207.5 458.4V477.0M1208.5 451.9V468.8M1209.5 453.4V466.9M1210.5 438.4V462.0M1211.5 435.0V443.2M1212.5 414.8V435.0M1213.5 397.9V421.5M1214.5 396.3V404.4M1215.5 384.4V401.3M1216.5 382.5V384.5M1217.5 364.1V382.7M1218.5 372.3V380.0M1219.5 359.1V379.3M1220.5 357.2V359.2M1221.5 330.4V357.4M1222.5 328.7V338.1M1223.5 284.9V333.8M1224.5 296.6V313.5M1225.5 264.6V308.5M1226.5 286.5V303.4M1227.5 230.9V301.8M1228.5 214.0V269.7M1229.5 226.4V257.3M1230.5 198.8V244.4M1231.5 189.5V214.7M1232.5 189.5V227.5M1233.5 193.8V244.4M1234.5 210.6V263.0M1235.5 246.7V269.7M1236.5 257.9V286.6M1237.5 274.8V330.4M1238.5 298.3V351.5M1239.5 278.1V322.0M1240.5 269.7V316.9M1241.5 288.8V297.5M1242.5 254.5V306.8M1243.5 259.0V280.9M1244.5 261.3V310.1M1245.5 283.8V296.3M1246.5 257.9V295.0M1247.5 296.6V327.0M1248.5 291.6V322.0M1249.5 311.6V326.0M1250.5 303.5V330.5M1251.5 295.0V308.4M1252.5 246.9V320.3M1253.5 295.0V303.4M1254.5 264.6V295.0M1255.5 278.1V330.4M1256.5 320.3V357.4M1257.5 346.7V367.6M1258.5 343.9V374.3M1259.5 349.7V372.0M1260.5 345.6V383.5M1261.5 321.9V338.8M1262.5 329.3V338.9M1263.5 315.3V343.9M1264.5 334.7V341.6M1265.5 333.8V348.9M1266.5 313.6V364.1M1267.5 351.2V372.5M1268.5 359.1V389.5M1269.5 362.4V379.3M1270.5 354.0V362.4M1271.5 327.8V354.0M1272.5 347.8V358.3M1273.5 350.6V370.9M1274.5 354.0V381.0M1275.5 363.0V376.5M1276.5 372.8V384.4M1277.5 365.8V384.4M1278.5 357.4V384.4M1279.5 352.7V370.9M1280.5 345.6V374.3M1281.5 265.5V355.7M1282.5 229.2V264.6M1283.5 250.0V264.6M1284.5 212.3V259.6M1285.5 216.0V226.8M1286.5 207.3V232.6M1287.5 214.7V232.2M1288.5 219.1V241.0M1289.5 229.2V248.6M1290.5 232.3V242.5M1291.5 227.5V242.7M1292.5 226.8V238.4M1293.5 221.6V237.6M1294.5 222.4V244.4M1295.5 237.6V259.6M1296.5 251.4V267.3M1297.5 257.9V291.6M1298.5 267.0V277.5M1299.5 269.7V295.0M1300.5 274.8V303.5M1301.5 259.6V300.1M1302.5 283.5V290.0M1303.5 278.1V291.6M1304.5 263.0V290.0M1305.5 289.8V291.8M1306.5 291.6V322.8M1307.5 298.6V310.8M1308.5 289.9V308.5M1309.5 288.3V305.1M1310.5 283.2V294.6M1311.5 279.8V300.1M1312.5 291.5V303.5M1313.5 291.6V322.0M1314.5 314.3V367.5M1315.5 337.1V390.3M1316.5 347.7V363.2M1317.5 340.5V360.8M1318.5 343.2V358.4M1319.5 331.2V354.0M1320.5 322.0V331.2M1321.5 295.0V324.5M1322.5 295.3V308.0M1323.5 283.2V305.1M1324.5 278.1V298.4M1325.5 277.7V288.8M1326.5 273.9V291.6M1327.5 282.0V291.1M1328.5 281.5V310.1M1329.5 306.8V346.4M1330.5 310.5V324.6M1331.5 300.0V323.6M1332.5 305.1V325.3M1333.5 306.8V350.6M1334.5 325.4V345.8M1335.5 328.7V365.8M1336.5 404.6V494.6M1337.5 436.7V468.8M1338.5 438.4V472.2M1339.5 418.1V438.4M1340.5 424.9V438.4M1341.5 409.7V440.1M1342.5 401.3V428.3M1343.5 422.1V431.4M1344.5 418.1V438.4M1345.5 427.9V437.6M1346.5 419.8V433.3M1347.5 413.1V435.0M1348.5 425.0V435.1M1349.5 414.8V436.7M1350.5 408.4V422.0M1351.5 397.9V418.1M1352.5 414.8V449.4M1353.5 436.8V458.7M1354.5 428.3V451.9M1355.5 435.2V452.5M1356.5 435.0V459.5M1357.5 437.2V453.6M1358.5 445.1V474.7M1359.5 448.5V468.8M1360.5 460.4V496.5M1361.5 451.9V480.6M1362.5 461.2V475.5M1363.5 457.0V479.8M1364.5 462.1V474.9M1365.5 456.1V478.9M1366.5 467.1V483.6M1367.5 448.5V468.8M1368.5 462.1V478.9M1369.5 433.3V471.4M1370.5 433.4V453.6M1371.5 413.9V439.3M1372.5 422.7V428.6M1373.5 418.1V431.6M1374.5 426.6V433.3M1375.5 408.0V433.3M1376.5 418.1V460.0M1377.5 445.2V465.4M1378.5 451.9V474.7M1379.5 454.5V469.7M1380.5 441.8V462.0M1381.5 452.0V463.8M1382.5 448.5V470.5M1383.5 459.5V470.5M1384.5 449.4V464.6M1385.5 421.5V460.0M1386.5 414.8V431.6M1387.5 423.2V436.8M1388.5 418.1V430.0M1389.5 422.1V430.0M1390.5 402.1V426.6M1391.5 414.7V431.3M1392.5 421.5V450.7M1393.5 435.1V445.2M1394.5 435.0V450.2M1395.5 424.9V436.8M1396.5 428.3V448.5M1397.5 408.9V435.0M1398.5 427.5V443.5M1399.5 431.6V446.8M1400.5 442.7V465.9M1401.5 446.8V465.4M1402.5 404.6V460.0M1403.5 375.9V411.4M1404.5 366.7V384.4M1405.5 305.1V344.7M1406.5 292.5V322.0M1407.5 306.8V335.4M1408.5 323.6V352.3M1409.5 333.8V359.9M1410.5 348.0V359.9M1411.5 326.2V357.4M1412.5 337.1V358.2M1413.5 300.1V322.0M1414.5 300.0V338.8M1415.5 274.8V320.0M1416.5 284.9V311.9M1417.5 252.8V320.3M1418.5 252.8V264.7M1419.5 254.5V274.8M1420.5 255.7V265.9M1421.5 241.0V281.5M1422.5 210.6V247.8M1423.5 223.3V247.8M1424.5 187.0V241.0M1425.5 210.6V237.5M1426.5 220.8V278.1M1427.5 227.5V264.6M1428.5 203.9V235.9M1429.5 210.0V231.3M1430.5 186.2V220.8M1431.5 206.6V232.0M1432.5 217.4V254.5M1433.5 247.8V305.1M1434.5 283.2V347.3M1435.5 294.8V296.8M1436.5 279.0V310.1M1437.5 301.3V311.9M1438.5 284.9V311.9M1439.5 294.9V313.5M1440.5 293.3V311.9M1441.5 289.9V308.4M1442.5 291.6V308.5M1443.5 285.4V299.1M1444.5 261.3V295.0M1445.5 242.7V268.0M1446.5 257.6V277.5M1447.5 261.3V327.0M1448.5 300.1V325.4M1449.5 310.1V335.4M1450.5 310.2V370.9M1451.5 313.1V324.0M1452.5 286.6V333.8M1453.5 288.8V299.9M1454.5 279.0V316.9M1455.5 295.0V338.8M1456.5 317.1V330.0M1457.5 303.5V328.8M1458.5 308.5V321.4M1459.5 294.2V333.8M1460.5 320.5V333.3M1461.5 311.9V359.1M1462.5 333.8V356.5M1463.5 329.3V346.2M1464.5 294.2V342.2M1465.5 372.5V460.0M1466.5 381.0V418.1M1467.5 397.4V416.2M1468.5 387.8V418.1M1469.5 402.2V416.8M1470.5 401.3V433.3M1471.5 403.5V423.1M1472.5 399.6V430.0M1473.5 404.2V412.0M1474.5 403.0V421.5M1475.5 389.5V418.1M1476.5 402.0V421.5M1477.5 401.3V424.9M1478.5 408.4V419.1M1479.5 401.3V418.1M1480.5 388.6V435.0M1481.5 434.9V468.7M1482.5 437.6V462.0M1483.5 440.0V483.9M1484.5 440.0V495.7M1485.5 438.4V510.9M1486.5 495.7V521.9M1487.5 492.2V508.7M1488.5 473.8V504.1M1489.5 495.7V507.5M1490.5 505.8V544.6M1491.5 532.8V559.8M1492.5 532.8V544.5M1493.5 534.5V551.4M1494.5 536.2V548.0M1495.5 534.0V539.3M1496.5 531.1V544.6M1497.5 530.2V540.0M1498.5 515.9V536.2M1499.5 514.5V521.5M1500.5 509.2V524.4M1501.5 509.2V521.0M1502.5 512.6V527.8M1503.5 521.0V534.5M1504.5 524.4V546.3M1505.5 546.3V561.5M1506.5 549.8V561.5M1507.5 536.2V558.1M1508.5 548.0V564.9M1510.5 589.1V617.8M1511.5 587.8V619.9M1512.5 577.3V622.9M1513.5 576.9V607.3M1514.5 592.1V603.9M1515.5 576.0V592.9M1516.5 581.1V593.8M1517.5 588.7V598.8M1518.5 588.3V593.8M1519.5 591.2V595.4M1520.5 581.1V595.4M1521.5 562.5V596.7M1522.5 554.8V568.3M1523.5 561.3V568.3M1524.5 554.8V566.6M1525.5 554.1V558.0M1526.5 553.1V559.8M1527.5 551.4V566.6M1528.5 551.2V560.6M1529.5 546.3V558.1M1530.5 551.4V564.9M1531.5 554.4V560.7M1532.5 549.7V561.5M1533.5 490.6V554.8M1534.5 446.8V497.4M1535.5 419.7V456.9M1536.5 404.6V460.0M1537.5 408.0V445.1M1538.5 420.0V434.6M1539.5 423.2V446.8M1540.5 429.1V444.0M1541.5 435.0V460.0M1542.5 424.9V451.9M1543.5 423.8V437.1M1544.5 406.3V438.4M1545.5 422.9V439.5M1546.5 414.8V441.8M1547.5 416.4V433.5M1548.5 399.6V433.3M1549.5 420.0V430.0M1550.5 418.1V436.7M1551.5 429.2V439.8M1552.5 418.1V451.9M1553.5 428.3V460.0M1554.5 432.9V457.5M1555.5 421.5V460.0M1556.5 411.8V435.0M1557.5 383.5V435.0M1558.5 417.2V428.9M1559.5 416.5V435.0M1560.5 420.3V428.5M1561.5 418.1V451.9M1562.5 429.7V442.2M1563.5 433.3V451.9M1564.5 435.0V460.0M1565.5 451.8V462.0M1566.5 444.5V452.8M1567.5 448.5V462.0M1568.5 440.1V460.0M1569.5 447.9V462.0M1570.5 441.8V462.0M1571.5 435.1V449.2M1572.5 436.7V452.5M1573.5 423.2V446.8M1574.5 426.6V446.8M1575.5 423.2V434.5M1576.5 423.2V443.5M1577.5 396.2V428.3M1578.5 387.4V411.4M1579.5 367.5V404.6M1580.5 357.4V374.3M1581.5 347.3V367.5M1582.5 281.8V348.9M1583.5 279.7V313.5M1584.5 256.5V278.7M1585.5 226.5V258.1M1586.5 235.7V257.1M1587.5 242.3V270.8M1588.5 243.9V269.2M1589.5 240.7V243.9M1590.5 211.4V240.7M1591.5 229.6V251.8M1592.5 223.1V239.9M1593.5 221.7V245.4M1594.5 245.4V283.4M1595.5 251.8V268.6M1596.5 247.0V273.9M1597.5 248.6V261.3M1598.5 221.7V251.8M1599.5 192.4V223.3M1600.5 143.7V173.4M1601.5 100.6V170.0M1602.5 76.6V113.3M1603.5 74.7V123.4M1604.5 91.8V138.6M1605.5 138.6V153.7M1606.5 125.9V177.4M1607.5 141.1V189.3M1608.5 138.6V171.5M1609.5 65.2V167.1M1610.5 72.2V144.9M1611.5 103.2V147.5M1612.5 94.9V115.8M1613.5 100.6V128.5M1614.5 120.9V155.1M1615.5 125.9V162.0M1616.5 131.0V151.3M1617.5 123.4V148.7M1618.5 123.4V144.1M1619.5 124.7V157.6M1620.5 139.9V156.3M1621.5 138.6V150.4M1622.5 138.6V155.1M1623.5 129.7V147.5M1624.5 91.1V132.3M1625.5 99.4V125.9M1626.5 113.3V131.0M1627.5 106.6V121.0M1628.5 98.1V115.8M1629.5 100.6V129.7M1630.5 124.7V171.5M1631.5 163.9V184.2M1632.5 171.2V186.3M1633.5 175.8V228.0M1634.5 196.7V219.5M1635.5 163.9V223.3M1636.5 160.0V183.7M1637.5 144.9V170.0M1638.5 118.4V182.2M1639.5 107.0V132.3M1640.5 110.3V128.9M1641.5 80.4V120.9M1642.5 112.0V131.0M1643.5 113.3V141.1M1644.5 138.6V215.4M1645.5 155.1V171.5M1646.5 150.5V217.0M1647.5 169.5V210.6M1648.5 185.1V216.4M1649.5 191.6V251.8M1650.5 202.8V218.3M1651.5 183.7V213.8M1652.5 207.5V246.2M1653.5 223.4V232.8M1654.5 212.2V229.6M1655.5 160.8V180.6M1656.5 168.4V184.4M1657.5 175.8V209.1M1658.5 209.1V251.8M1659.5 215.4V248.6M1660.5 235.9V270.8M1661.5 258.1V346.4M1662.5 285.0V335.4M1663.5 298.9V318.2M1664.5 288.2V330.4M1665.5 258.9V286.6M1666.5 286.5V303.4M1667.5 269.2V302.4M1668.5 293.2V325.3M1669.5 323.6V350.6M1670.5 336.2V350.3M1671.5 338.8V370.9M1672.5 359.1V384.4M1673.5 362.7V382.5M1674.5 367.5V421.5M1675.5 385.2V409.6M1676.5 367.5V401.3M1677.5 352.3V381.0M1678.5 348.9V357.0M1679.5 348.9V367.5M1680.5 357.4V408.0M1681.5 359.1V397.9M1682.5 351.6V372.8M1683.5 325.3V367.5M1684.5 332.1V364.1M1685.5 327.6V344.8M1686.5 300.0V337.1M1687.5 291.3V321.9M1688.5 302.4V327.7M1689.5 320.3V355.7M1690.5 350.6V379.3M1691.5 361.2V384.1M1692.5 360.8V394.5M1693.5 367.5V398.7M1694.5 363.8V375.9M1695.5 353.2V374.3M1696.5 358.3V370.6M1697.5 364.1V379.3M1698.5 367.5V380.2M1699.5 365.2V374.2M1700.5 356.5V377.6M1701.5 359.0V363.4M1702.5 360.8V370.9M1703.5 340.5V369.2M1704.5 333.9V351.3M1705.5 316.9V343.9M1706.5 315.2V325.3M1707.5 315.2V338.8M1708.5 333.8V354.0M1709.5 337.9V348.2M1710.5 335.4V352.3M1711.5 308.4V345.6M1712.5 296.6V318.6M1713.5 305.0V317.6M1714.5 305.6V334.1M1715.5 306.8V333.8M1716.5 332.1V374.3M1717.5 355.7V384.4M1718.5 365.7V382.4M1719.5 359.1V381.0M1720.5 367.5V397.0M1721.5 367.6V379.1M1722.5 357.4V379.3M1723.5 360.8V394.5M1724.5 392.0V420.2M1725.5 461.9V482.2M1726.5 468.7V504.1M1727.5 495.7V512.6M1728.5 507.5V548.0M1729.5 541.3V564.1M1730.5 534.5V541.3M1731.5 502.4V534.5M1732.5 521.0V541.3M1733.5 515.1V527.5M1734.5 514.3V536.2M1735.5 521.2V531.5M1736.5 522.7V537.9M1737.5 526.1V537.9M1738.5 526.9V533.0M1739.5 527.8V541.3M1740.5 531.1V549.7M1741.5 544.6V556.5M1742.5 505.8V541.3M1743.5 529.0V541.3M1744.5 512.6V539.6M1745.5 512.6V528.2M1746.5 515.9V534.5M1747.5 494.0V527.8M1748.5 515.8V527.8M1749.5 502.4V527.8M1750.5 515.9V536.2M1751.5 512.6V523.9M1752.5 512.6V527.8M1753.5 494.0V522.7M1754.5 485.9V508.0M1755.5 464.5V497.4M1756.5 467.0V490.6M1757.5 478.8V495.6M1758.5 473.8V500.8M1759.5 497.4V507.5M1760.5 497.4V519.3M1761.5 500.8V521.0" stroke="#000" stroke-width="1" fill="none"/>
<path d="M5.5 798.5V800.6M8.5 795.8V803.3M9.5 800.4V801.9M11.5 801.2V803.3M20.5 810.2V812.0M21.5 811.9V816.2M37.5 811.9V813.9M41.5 815.1V817.1M50.5 818.5V820.5M58.5 819.1V821.1M68.5 814.1V815.9M74.5 819.8V821.7M79.5 819.6V822.1M83.5 817.0V819.3M85.5 818.5V820.5M87.5 819.6V821.8M90.5 820.3V822.4M92.5 821.9V823.3M100.5 817.6V819.3M105.5 817.5V819.5M107.5 817.5V819.6M108.5 819.2V821.2M111.5 819.1V821.4M112.5 821.1V823.1M114.5 824.3V826.9M117.5 824.5V826.5M120.5 825.1V826.3M122.5 824.9V826.3M124.5 825.4V826.6M129.5 825.7V827.7M132.5 827.6V829.9M134.5 827.3V829.0M137.5 827.6V829.6M139.5 828.1V830.2M142.5 826.7V828.7M144.5 824.8V826.3M146.5 824.8V827.3M150.5 821.6V823.3M155.5 822.1V823.8M159.5 820.4V822.6M162.5 817.3V819.3M177.5 804.1V806.3M178.5 806.9V808.9M179.5 807.2V809.2M180.5 808.9V814.0M182.5 812.6V814.4M187.5 815.4V816.7M189.5 817.0V818.2M190.5 818.9V832.6M191.5 829.3V833.5M192.5 830.1V832.1M195.5 827.0V828.8M197.5 825.9V828.2M201.5 826.3V828.7M209.5 821.5V823.7M212.5 822.6V824.3M214.5 821.2V822.9M226.5 814.8V816.8M230.5 814.6V816.5M231.5 816.0V818.0M233.5 817.6V819.8M238.5 815.1V817.1M241.5 815.8V817.9M242.5 814.4V816.4M243.5 814.9V816.5M244.5 815.1V817.2M248.5 808.9V811.3M250.5 809.2V811.4M252.5 809.6V811.3M255.5 809.8V811.8M257.5 811.0V813.5M261.5 809.5V811.5M267.5 811.0V812.8M273.5 809.1V810.9M276.5 808.6V810.6M277.5 808.8V810.8M281.5 809.6V811.6M282.5 810.5V811.7M292.5 790.5V792.6M306.5 783.7V785.7M309.5 785.7V788.0M317.5 791.4V796.6M327.5 789.1V790.6M332.5 791.9V793.1M336.5 791.9V793.6M344.5 786.9V788.9M348.5 788.4V789.8M352.5 783.3V785.5M354.5 784.4V786.1M355.5 785.9V787.5M367.5 771.8V774.4M375.5 757.7V767.1M376.5 754.7V760.6M379.5 747.5V749.6M381.5 750.3V752.5M382.5 753.4V755.4M383.5 754.2V756.2M384.5 757.1V761.2M391.5 745.7V747.4M393.5 745.2V749.9M394.5 750.4V752.1M406.5 658.3V662.3M408.5 669.9V682.5M415.5 639.9V675.6M419.5 630.1V647.7M432.5 558.2V570.5M438.5 552.9V604.7M441.5 601.3V615.3M446.5 603.1V609.7M452.5 547.2V557.1M454.5 552.4V565.2M457.5 557.9V577.3M461.5 580.5V592.1M468.5 508.4V522.7M469.5 511.1V531.0M476.5 459.8V470.8M477.5 466.4V496.5M481.5 447.3V492.5M490.5 279.0V296.0M492.5 181.3V220.7M497.5 291.8V339.1M498.5 292.8V427.8M499.5 410.2V469.0M501.5 386.9V476.4M512.5 428.8V450.5M518.5 432.2V443.3M519.5 434.5V455.4M521.5 501.6V542.8M522.5 529.1V556.2M523.5 536.8V557.1M530.5 488.7V496.9M536.5 503.8V520.1M539.5 524.5V539.1M540.5 541.2V547.8M541.5 542.2V550.1M542.5 547.1V563.5M558.5 328.0V337.1M562.5 333.4V355.3M565.5 334.2V337.9M567.5 320.6V334.1M577.5 206.8V304.6M581.5 299.1V312.0M582.5 306.7V330.7M586.5 307.2V360.3M588.5 362.5V387.6M598.5 278.1V292.8M600.5 262.7V273.5M601.5 267.5V279.1M602.5 279.8V296.8M610.5 192.6V208.4M624.5 75.6V97.6M625.5 88.6V109.6M626.5 100.8V113.9M627.5 107.5V158.1M628.5 160.2V177.8M640.5 97.4V164.9M641.5 152.4V186.9M644.5 147.0V185.4M645.5 157.3V186.8M648.5 188.1V244.4M652.5 198.7V225.0M655.5 190.8V209.5M656.5 187.1V221.1M657.5 230.6V238.1M663.5 227.0V294.5M665.5 274.3V330.0M666.5 332.8V357.8M670.5 312.9V331.6M671.5 324.5V336.5M674.5 327.9V357.5M675.5 351.9V432.9M679.5 461.2V472.0M683.5 408.0V414.2M684.5 406.9V427.0M695.5 394.2V411.1M696.5 414.8V428.8M698.5 430.3V449.1M699.5 419.4V467.4M701.5 409.7V431.8M705.5 390.3V415.1M707.5 417.2V428.0M710.5 413.3V430.5M711.5 421.4V425.9M728.5 288.8V332.7M729.5 326.2V334.7M731.5 320.9V369.8M732.5 353.8V363.9M733.5 360.8V366.0M735.5 355.0V365.6M741.5 371.7V386.6M742.5 388.7V393.6M746.5 392.5V397.9M749.5 397.4V416.1M751.5 436.3V452.3M752.5 461.3V483.5M753.5 491.1V540.1M754.5 504.1V558.0M761.5 532.5V536.0M764.5 530.2V556.7M765.5 556.3V567.7M773.5 556.6V563.3M774.5 556.5V563.8M775.5 563.3V576.9M776.5 610.8V656.4M778.5 656.9V675.0M782.5 666.8V674.5M789.5 674.5V684.9M797.5 669.9V674.7M811.5 577.2V581.0M814.5 580.0V585.6M817.5 557.2V575.8M820.5 540.8V551.6M822.5 532.3V543.5M823.5 535.3V547.4M824.5 542.0V552.5M825.5 554.7V573.3M826.5 586.8V597.0M838.5 589.6V601.4M842.5 577.7V591.9M843.5 583.1V595.1M847.5 628.4V640.3M848.5 634.9V638.0M850.5 637.5V646.8M853.5 631.1V639.7M860.5 631.8V634.9M862.5 638.2V641.4M864.5 643.1V652.2M867.5 639.6V641.8M869.5 637.5V641.0M870.5 639.6V644.2M879.5 590.9V603.0M881.5 592.3V601.9M882.5 598.1V629.7M883.5 645.7V670.3M885.5 643.4V670.6M889.5 651.9V655.3M890.5 657.7V662.8M901.5 642.4V646.7M905.5 644.4V646.2M908.5 635.7V641.5M916.5 651.6V653.4M917.5 651.7V654.7M919.5 655.8V657.4M920.5 654.6V656.1M933.5 588.5V601.0M948.5 582.2V584.7M955.5 576.3V581.1M957.5 578.3V581.9M958.5 580.0V583.5M959.5 580.9V583.9M960.5 584.4V586.0M964.5 582.7V587.8M965.5 590.6V594.0M969.5 603.3V616.2M977.5 560.6V563.4M981.5 567.2V569.8M984.5 552.5V562.2M989.5 544.6V546.3M990.5 548.1V551.0M997.5 514.1V518.6M1000.5 535.5V549.0M1001.5 546.7V554.6M1005.5 542.9V551.3M1008.5 539.3V549.3M1011.5 539.7V548.3M1012.5 543.3V554.5M1013.5 548.7V553.9M1014.5 551.7V556.3M1024.5 553.5V559.2M1027.5 547.1V549.1M1028.5 542.3V560.5M1031.5 543.3V555.5M1033.5 548.1V550.2M1035.5 549.8V552.1M1036.5 564.3V569.1M1037.5 570.0V579.4M1046.5 544.3V551.2M1054.5 538.1V543.7M1058.5 542.0V545.7M1061.5 542.3V544.0M1063.5 541.5V543.0M1065.5 543.2V545.2M1066.5 543.1V544.8M1067.5 544.6V550.9M1069.5 546.8V548.9M1071.5 547.2V549.7M1079.5 547.5V549.8M1082.5 552.4V554.9M1083.5 553.9V557.0M1084.5 569.0V584.4M1085.5 579.4V583.7M1087.5 580.6V588.7M1091.5 579.7V584.0M1093.5 580.7V583.0M1095.5 583.1V584.4M1096.5 584.9V586.9M1099.5 585.0V587.3M1103.5 587.2V591.7M1104.5 588.4V590.5M1110.5 589.6V590.9M1117.5 580.6V582.1M1118.5 581.4V584.4M1119.5 583.1V585.4M1120.5 583.9V587.9M1128.5 592.1V596.2M1137.5 556.3V561.0M1141.5 540.5V545.7M1142.5 544.0V545.8M1150.5 521.8V534.8M1156.5 513.6V523.8M1166.5 468.5V489.7M1170.5 488.8V494.7M1171.5 494.0V502.7M1176.5 479.4V484.1M1177.5 483.5V488.9M1178.5 478.0V482.1M1182.5 463.3V481.2M1184.5 478.4V488.6M1193.5 445.4V450.1M1194.5 443.4V455.5M1197.5 471.7V488.3M1198.5 488.9V493.0M1203.5 472.0V475.4M1204.5 475.8V481.3M1218.5 374.5V377.6M1232.5 194.8V222.8M1234.5 210.6V263.0M1235.5 252.9V264.1M1236.5 257.9V286.6M1244.5 271.9V305.9M1245.5 287.0V293.5M1255.5 284.4V320.2M1256.5 328.5V352.6M1257.5 348.3V361.7M1259.5 354.7V369.5M1262.5 330.6V336.5M1264.5 335.5V340.2M1266.5 314.3V364.1M1267.5 353.9V369.0M1272.5 350.5V355.8M1274.5 359.5V379.4M1275.5 367.4V372.6M1276.5 375.0V382.2M1287.5 218.5V230.1M1294.5 227.6V237.3M1297.5 265.6V283.0M1299.5 277.4V289.6M1300.5 282.0V298.9M1311.5 282.4V296.3M1314.5 314.3V367.5M1315.5 350.1V380.0M1328.5 285.9V307.9M1334.5 330.4V342.5M1335.5 328.7V365.8M1336.5 404.6V462.0M1337.5 444.5V464.9M1338.5 445.6V467.2M1340.5 426.8V436.0M1343.5 423.8V428.6M1344.5 424.7V436.5M1345.5 430.0V436.1M1348.5 425.8V431.7M1353.5 441.9V454.8M1355.5 441.0V448.1M1362.5 462.4V471.8M1366.5 472.7V478.1M1368.5 465.8V477.6M1374.5 428.3V432.4M1376.5 431.7V448.8M1377.5 447.2V463.6M1378.5 453.8V467.6M1383.5 461.2V469.4M1389.5 422.6V427.9M1391.5 415.9V427.7M1393.5 436.8V441.9M1399.5 434.7V444.7M1400.5 449.2V458.0M1401.5 448.6V461.9M1407.5 308.7V330.4M1412.5 343.5V353.9M1414.5 305.2V334.9M1416.5 293.3V305.7M1419.5 257.0V269.7M1425.5 212.4V232.0M1426.5 227.8V268.0M1431.5 209.4V230.1M1432.5 226.0V249.9M1433.5 259.3V293.3M1442.5 293.7V302.7M1448.5 303.3V320.6M1450.5 325.8V365.1M1454.5 288.6V314.5M1455.5 304.7V323.9M1456.5 321.3V327.1M1465.5 393.4V441.6M1469.5 403.3V415.8M1477.5 405.8V422.2M1481.5 436.7V462.8M1483.5 452.1V474.4M1484.5 450.6V484.8M1485.5 453.2V497.7M1486.5 498.1V515.7M1491.5 536.9V553.4M1493.5 538.7V548.0M1502.5 514.7V526.6M1503.5 521.8V533.3M1504.5 526.3V541.8M1517.5 591.7V596.0M1523.5 561.9V567.6M1527.5 553.7V563.9M1530.5 555.7V563.4M1541.5 438.7V453.8M1545.5 423.9V438.3M1549.5 422.1V427.7M1551.5 431.3V436.2M1552.5 426.4V443.9M1553.5 436.1V454.2M1559.5 420.6V430.5M1561.5 429.1V449.3M1562.5 433.5V438.2M1563.5 435.8V446.3M1564.5 438.9V451.6M1565.5 454.7V459.1M1576.5 427.4V439.0M1593.5 225.4V243.7M1594.5 248.6V272.6M1603.5 87.2V111.9M1604.5 91.8V138.6M1605.5 140.2V151.4M1606.5 153.7V177.4M1607.5 154.6V184.2M1614.5 126.5V148.5M1615.5 136.9V159.7M1619.5 127.2V155.0M1625.5 103.1V121.9M1626.5 114.7V125.6M1629.5 110.2V126.3M1630.5 124.7V171.5M1631.5 170.4V182.7M1633.5 179.8V218.9M1641.5 89.2V120.9M1642.5 114.7V124.9M1643.5 113.3V141.1M1644.5 138.6V157.6M1646.5 150.5V217.0M1648.5 187.3V206.8M1649.5 202.1V241.5M1653.5 225.3V230.2M1656.5 170.5V182.2M1658.5 215.9V243.8M1659.5 215.4V248.6M1660.5 235.9V270.8M1661.5 277.9V320.9M1662.5 296.9V332.8M1666.5 288.5V298.5M1670.5 337.0V347.4M1671.5 344.5V365.4M1674.5 376.5V414.4M1675.5 393.5V403.3M1679.5 351.5V361.2M1680.5 357.4V408.0M1689.5 332.5V344.1M1692.5 368.1V383.8M1696.5 359.0V367.8M1698.5 371.5V376.6M1707.5 318.7V331.3M1708.5 339.0V348.3M1713.5 307.3V313.5M1716.5 339.8V369.0M1717.5 362.1V379.7M1718.5 370.6V381.0M1723.5 360.8V394.5M1724.5 392.0V411.4M1725.5 464.1V478.8M1726.5 468.7V504.1M1727.5 499.2V511.1M1728.5 507.5V548.0M1729.5 542.5V557.9M1732.5 526.3V539.0M1735.5 523.9V528.9M1736.5 526.4V536.5M1743.5 530.1V540.4M1748.5 518.0V526.2M1757.5 481.4V490.2" stroke="#ff0000" stroke-width="1" fill="none"/>
<path d="M17.5 899.5 L19.4 897.6 L20.7 906.4 L22.5 913.3 L26.9 909.5 L30.1 901.4 L32.8 881.3 L35.1 877.6 L37.2 868.6 L39.5 877.6 L41.3 900.1 L43.5 916.2 L46.3 910.1 L49.9 893.6 L52.6 900.1 L54.7 908.3 L58.9 898.9 L62.6 886.3 L65.1 865.1 L68.6 850.6 L70.8 861.3 L73.0 890.1 L75.2 907.3 L78.3 900.1 L81.4 880.1 L84.6 862.5 L87.1 881.3 L90.2 900.1 L93.1 912.4 L95.2 893.9 L97.1 871.3 L99.0 858.8 L102.7 858.5 L105.8 868.8 L109.0 890.1 L111.9 910.1 L113.4 915.2 L116.5 905.1 L119.6 896.4 L122.8 892.6 L125.6 890.4 L128.4 898.9 L131.3 915.2 L132.8 905.1 L136.5 897.6 L137.8 898.2 L141.6 888.9 L144.1 861.3 L145.9 861.3 L148.4 860.7 L150.3 855.0 L153.1 853.2 L156.6 861.3 L158.8 862.5 L161.6 852.5 L164.1 853.2 L167.9 850.0 L171.6 848.5 L174.7 853.8 L177.3 862.5 L179.4 883.8 L181.6 907.6 L183.1 910.8 L186.6 903.9 L189.2 905.1 L191.7 913.9 L193.9 914.5 L197.3 906.4 L200.4 887.6 L203.6 873.8 L205.4 877.6 L207.9 867.6 L210.4 853.5 L213.0 865.1 L215.5 873.8 L218.6 867.6 L221.5 856.3 L224.2 848.8 L226.7 858.8 L229.9 873.8 L233.0 890.1 L236.1 893.2 L238.0 877.6 L242.5 862.5 L244.4 878.8 L246.9 865.1 L249.0 856.3 L252.5 858.8 L255.7 863.8 L258.2 881.3 L260.1 893.2 L261.3 893.2 L263.6 880.1 L265.7 878.2 L267.6 890.1 L270.7 908.3 L273.2 890.1 L275.1 872.6 L277.0 863.8 L279.5 868.8 L282.4 892.6 L284.5 875.1 L287.0 849.4 L290.1 848.8 L294.5 845.6 L297.6 852.5 L299.9 861.9 L303.3 855.7 L305.2 860.0 L308.3 885.1 L311.4 903.9 L313.3 885.1 L314.9 875.7 L317.1 882.6 L319.2 913.9 L322.7 900.1 L325.8 882.6 L328.0 880.1 L331.5 902.6 L334.6 883.8 L337.1 880.1 L340.2 886.3 L342.7 872.6 L345.2 860.0 L348.4 871.3 L352.1 861.3 L355.3 877.6 L358.8 897.6 L361.5 865.1 L364.3 850.6 L367.8 850.6 L371.6 855.7 L373.4 852.5 L375.9 867.6 L378.7 874.4 L381.6 862.5 L384.7 875.1 L387.6 889.5 L389.7 876.3 L391.8 861.9 L394.1 867.6 L396.4 887.6 L398.5 871.3 L401.4 850.0 L403.5 855.0 L405.4 852.5 L408.5 858.8 L411.4 871.9 L414.1 858.2 L416.6 867.6 L419.4 877.6 L422.3 865.1 L424.8 852.5 L427.5 848.8 L431.7 851.9 L435.4 853.2 L437.9 861.3 L441.1 892.6 L443.6 908.3 L445.5 908.9 L448.6 880.1 L451.5 853.2 L454.9 861.3 L457.4 872.6 L459.2 895.1 L461.1 914.5 L462.5 890.1 L464.4 852.5 L466.5 845.6 L468.6 847.5 L470.0 853.8 L472.5 858.2 L475.3 849.4 L478.2 865.1 L480.7 880.1 L483.8 858.8 L486.3 846.9 L490.7 849.4 L494.4 853.8 L497.0 877.6 L498.8 900.1 L500.7 907.6 L504.5 902.6 L508.2 883.8 L511.4 869.4 L513.9 883.8 L516.4 896.4 L520.1 910.1 L522.4 918.7 L525.1 910.1 L528.3 887.6 L530.8 868.8 L533.7 862.5 L536.4 877.6 L538.7 900.1 L541.4 918.7 L543.9 912.7 L546.4 883.8 L548.9 861.3 L551.4 853.8 L554.6 849.4 L557.7 846.9 L560.8 850.6 L564.0 862.5 L566.5 871.9 L570.9 872.6 L573.4 858.8 L575.5 848.5 L577.8 858.8 L580.0 883.8 L581.8 900.8 L585.3 895.7 L587.8 898.9 L590.5 903.9 L594.0 902.6 L595.9 890.1 L597.8 865.1 L599.7 846.3 L602.2 851.3 L605.3 855.0 L607.8 853.2 L610.9 861.3 L613.8 867.6 L616.6 858.8 L618.8 852.5 L622.8 853.8 L626.0 860.0 L627.9 883.8 L629.7 906.4 L631.4 912.0 L634.1 896.4 L636.6 877.6 L639.4 867.6 L642.3 877.6 L645.4 896.4 L648.5 910.1 L651.7 896.4 L654.8 877.6 L657.3 868.2 L659.2 883.8 L661.3 913.9 L663.6 910.1 L666.1 913.3 L669.2 902.6 L672.3 896.4 L675.5 902.6 L679.5 912.0 L683.0 898.9 L685.5 877.6 L687.4 855.0 L689.0 850.6 L691.7 862.5 L694.9 883.8 L697.4 905.1 L699.0 917.7 L700.6 902.6 L702.5 881.3 L705.0 868.2 L707.5 883.8 L710.0 898.9 L712.3 902.0 L714.4 890.1 L716.3 865.1 L718.2 851.3 L720.7 848.1 L724.4 852.5 L728.2 858.8 L730.1 877.6 L732.0 905.1 L733.2 915.2 L735.3 917.0 L738.2 905.1 L741.4 891.4 L743.2 900.1 L747.0 908.3 L750.1 909.5 L753.3 920.2 L756.4 913.9 L759.5 905.1 L763.3 896.4 L766.4 898.2 L770.2 893.2 L772.7 900.1 L775.8 905.1 L777.7 917.7 L780.2 917.7 L783.3 920.2 L785.8 913.9 L787.7 893.9 L789.2 882.6 L791.7 895.7 L794.0 883.8 L795.6 864.4 L797.7 873.8 L800.0 886.3 L802.1 865.1 L804.2 848.5 L807.1 860.0 L810.9 863.2 L812.8 858.8 L815.3 871.3 L819.0 862.5 L821.3 853.8 L824.0 861.3 L825.9 881.3 L828.4 905.1 L830.5 910.8 L834.1 905.1 L837.2 890.1 L839.7 871.3 L841.8 860.7 L844.1 877.6 L846.3 905.1 L848.5 920.2 L852.8 915.2 L855.4 896.4 L857.9 877.6 L859.7 874.4 L862.2 890.1 L864.5 898.2 L867.3 881.3 L871.0 872.6 L873.5 856.3 L876.0 853.2 L879.2 858.8 L881.7 871.3 L884.2 892.6 L886.7 908.3 L890.4 906.4 L892.9 909.5 L895.4 896.4 L897.9 871.3 L900.4 853.8 L901.7 851.3 L904.2 862.5 L906.1 870.1 L908.6 863.2 L910.5 883.8 L912.3 902.6 L913.9 912.0 L916.7 902.6 L920.5 897.6 L923.0 887.6 L925.5 858.8 L928.6 848.1 L931.5 845.6 L935.0 851.3 L938.8 853.8 L942.5 873.2 L945.1 872.6 L947.6 868.2 L950.1 881.3 L952.6 908.9 L955.1 877.6 L957.3 861.3 L960.1 871.3 L963.2 883.8 L966.3 900.1 L969.5 922.0 L971.4 900.1 L973.9 871.3 L976.4 857.5 L979.1 853.8 L982.0 865.1 L984.5 877.0 L987.0 865.1 L988.9 858.8 L992.7 861.3 L995.2 852.5 L997.4 851.9 L999.2 865.1 L1000.8 890.1 L1002.4 911.4 L1003.9 913.9 L1007.7 902.6 L1009.9 892.6 L1011.7 883.8 L1013.7 900.1 L1015.5 912.7 L1019.0 900.1 L1022.7 883.8 L1026.5 873.8 L1030.2 863.8 L1033.4 877.6 L1035.9 893.9 L1038.4 912.7 L1039.6 915.8 L1042.1 896.4 L1044.0 877.6 L1045.9 860.0 L1047.5 855.7 L1050.3 862.5 L1054.0 863.8 L1056.5 883.8 L1058.4 900.1 L1060.9 887.6 L1063.4 890.1 L1065.9 902.6 L1068.4 912.7 L1069.7 913.9 L1072.8 905.1 L1075.3 903.3 L1077.8 900.1 L1079.7 887.6 L1081.6 877.0 L1083.5 890.1 L1085.4 905.1 L1087.9 910.1 L1091.0 905.1 L1093.5 892.6 L1096.0 890.1 L1098.5 900.1 L1101.6 912.7 L1104.1 902.6 L1106.0 883.8 L1108.3 864.8 L1111.0 881.3 L1113.5 902.0 L1116.0 883.8 L1118.2 878.2 L1120.4 890.1 L1122.9 908.9 L1125.4 918.9 L1127.9 907.6 L1130.4 887.6 L1133.0 865.1 L1134.8 858.8 L1138.6 857.5 L1142.3 857.5 L1145.5 851.9 L1148.6 857.5 L1150.5 871.3 L1153.4 888.9 L1155.5 877.6 L1157.6 870.7 L1160.0 876.3 L1162.5 862.5 L1165.3 852.5 L1168.2 867.6 L1171.3 887.6 L1174.2 898.9 L1176.9 881.3 L1179.4 865.7 L1182.6 881.3 L1185.5 897.0 L1187.6 883.8 L1190.1 865.1 L1192.6 863.2 L1195.7 877.6 L1198.2 905.1 L1200.5 918.9 L1203.9 901.4 L1207.0 880.1 L1209.5 856.3 L1211.4 848.1 L1217.6 847.8 L1222.7 851.9 L1227.7 859.4 L1232.7 850.6 L1235.8 860.0 L1237.7 892.6 L1240.2 905.8 L1243.3 887.6 L1246.5 873.8 L1249.0 887.6 L1250.8 900.1 L1252.7 887.6 L1254.6 878.8 L1256.5 892.6 L1258.4 912.7 L1259.6 918.3 L1262.7 902.6 L1264.6 890.1 L1266.5 881.3 L1270.3 891.4 L1274.0 890.1 L1276.5 900.1 L1279.0 908.3 L1280.9 883.8 L1282.8 858.8 L1284.7 848.8 L1287.8 855.0 L1291.6 861.3 L1294.1 877.6 L1296.6 896.4 L1299.1 911.4 L1300.3 915.2 L1303.5 905.1 L1306.0 897.6 L1309.1 895.1 L1312.6 890.7 L1315.4 901.4 L1317.6 907.0 L1320.4 896.4 L1322.9 871.3 L1325.4 851.9 L1328.5 856.3 L1330.4 871.3 L1332.9 890.1 L1336.0 905.1 L1338.5 912.0 L1341.7 901.4 L1344.8 883.8 L1347.9 877.0 L1350.4 875.7 L1353.6 890.1 L1356.7 902.6 L1360.4 912.0 L1363.6 900.1 L1366.1 886.3 L1369.2 875.1 L1371.7 855.7 L1375.5 852.5 L1377.4 871.3 L1379.2 896.4 L1381.1 908.3 L1384.2 905.1 L1386.8 883.8 L1388.6 861.3 L1389.4 857.5 L1392.5 871.3 L1396.3 900.1 L1399.4 893.9 L1401.5 905.1 L1403.8 877.6 L1406.3 848.5 L1409.4 862.5 L1412.6 875.1 L1415.7 874.4 L1418.8 858.8 L1422.0 855.0 L1426.3 858.8 L1429.5 881.3 L1431.4 870.7 L1433.9 887.6 L1436.4 901.4 L1442.6 900.1 L1445.8 871.9 L1448.3 890.1 L1450.8 912.7 L1453.3 896.4 L1455.8 877.6 L1458.7 873.8 L1461.4 890.1 L1463.3 900.1 L1466.4 892.6 L1468.9 898.9 L1472.1 907.6 L1475.2 896.4 L1478.3 883.8 L1480.8 896.4 L1483.3 912.7 L1486.5 915.2 L1490.2 910.8 L1493.4 913.9 L1497.1 907.6 L1499.6 883.8 L1501.5 868.8 L1503.8 864.8 L1505.9 883.8 L1508.4 905.1 L1511.3 912.7 L1514.7 905.1 L1517.8 892.6 L1520.9 877.6 L1523.4 858.8 L1525.3 852.5 L1529.1 852.5 L1532.8 863.8 L1535.3 860.7 L1537.6 853.5 L1541.0 857.5 L1544.1 867.6 L1546.6 871.9 L1550.4 872.6 L1552.9 890.1 L1554.7 898.9 L1556.6 881.3 L1558.9 872.8 L1561.6 890.1 L1564.1 905.1 L1566.3 910.8 L1569.2 896.4 L1571.7 877.6 L1574.2 862.5 L1577.3 859.4 L1580.4 849.4 L1583.6 847.5 L1587.9 852.5 L1593.0 861.3 L1595.5 883.8 L1597.6 898.9 L1599.8 877.6 L1602.3 849.4 L1605.5 861.3 L1608.6 882.0 L1613.2 868.8 L1615.5 883.8 L1618.0 902.6 L1618.8 906.4 L1622.5 910.1 L1625.0 883.8 L1628.4 866.3 L1630.7 890.1 L1632.5 908.9 L1634.4 916.4 L1637.6 890.1 L1640.1 865.1 L1642.3 856.3 L1644.4 871.3 L1646.3 892.6 L1648.8 913.9 L1652.6 910.1 L1655.1 896.4 L1657.9 886.3 L1660.1 900.1 L1663.2 912.7 L1665.7 902.6 L1667.9 897.4 L1670.8 906.4 L1674.1 916.2 L1677.0 905.1 L1680.1 883.8 L1683.3 865.1 L1686.2 858.8 L1689.5 868.8 L1691.4 890.1 L1693.3 911.4 L1694.6 917.4 L1697.7 900.1 L1701.4 883.8 L1704.6 865.1 L1706.7 857.5 L1709.0 867.6 L1710.8 878.2 L1713.3 868.8 L1715.2 863.2 L1716.5 883.8 L1719.0 906.4 L1720.2 913.9 L1722.1 906.4 L1725.2 907.6 L1728.1 919.2 L1730.9 913.9 L1734.0 905.1 L1736.5 893.9 L1738.8 888.2 L1741.3 904.5 L1743.4 890.1 L1745.9 873.8 L1748.4 871.1 L1751.6 880.1 L1753.7 888.2 L1755.3 875.1 L1757.2 864.8 L1759.7 873.8 L1760.9 882.6 L1761.6 892.6" stroke="#000" stroke-width="1" fill="none" stroke-linejoin="miter"/>
<path d="M18.1 899.5 L19.1 899.0 L20.1 898.7 L21.1 900.1 L22.1 902.3 L23.1 905.7 L24.1 909.3 L25.1 911.4 L26.1 911.9 L27.1 911.4 L28.1 910.3 L29.1 908.9 L30.1 907.0 L31.1 904.4 L32.1 900.4 L33.1 895.2 L34.1 889.5 L35.1 884.3 L36.1 880.3 L37.1 877.1 L38.1 874.4 L39.1 872.9 L40.1 873.0 L41.1 876.8 L42.1 884.2 L43.1 892.8 L44.1 902.1 L45.1 908.8 L46.1 912.1 L47.1 912.8 L48.1 910.6 L49.1 907.3 L50.1 903.3 L51.1 899.4 L52.1 897.2 L53.1 896.8 L54.1 898.4 L55.1 901.4 L56.1 903.9 L57.1 905.3 L58.1 905.2 L59.1 903.6 L60.1 901.2 L61.1 898.6 L62.1 895.7 L63.1 892.5 L64.1 888.3 L65.1 882.9 L66.1 876.3 L67.1 869.5 L68.1 863.4 L69.1 858.3 L70.1 855.6 L71.1 855.3 L72.1 858.2 L73.1 865.3 L74.1 874.9 L75.1 885.2 L76.1 894.8 L77.1 900.9 L78.1 903.4 L79.1 903.3 L80.1 900.1 L81.1 895.8 L82.1 890.4 L83.1 884.3 L84.1 878.3 L85.1 872.5 L86.1 869.2 L87.1 869.3 L88.1 872.6 L89.1 878.7 L90.1 885.4 L91.1 891.6 L92.1 897.1 L93.1 902.2 L94.1 906.1 L95.1 906.5 L96.1 903.4 L97.1 896.4 L98.1 886.3 L99.1 876.7 L100.1 868.2 L101.1 862.7 L102.1 859.8 L103.1 858.7 L104.1 859.1 L105.1 860.3 L106.1 862.4 L107.1 865.7 L108.1 870.3 L109.1 875.7 L110.1 882.0 L111.1 888.8 L112.1 895.7 L113.1 902.3 L114.1 907.8 L115.1 911.1 L116.1 911.8 L117.1 910.3 L118.1 907.5 L119.1 904.5 L120.1 901.6 L121.1 899.0 L122.1 896.9 L123.1 895.1 L124.1 893.8 L125.1 892.8 L126.1 891.9 L127.1 891.7 L128.1 892.5 L129.1 894.3 L130.1 897.6 L131.1 901.9 L132.1 906.4 L133.1 908.9 L134.1 908.9 L135.1 907.1 L136.1 903.7 L137.1 901.1 L138.1 899.6 L139.1 898.3 L140.1 896.9 L141.1 895.4 L142.1 893.3 L143.1 889.2 L144.1 883.0 L145.1 875.4 L146.1 868.3 L147.1 863.4 L148.1 861.2 L149.1 861.0 L150.1 860.2 L151.1 858.8 L152.1 857.1 L153.1 855.4 L154.1 854.3 L155.1 854.4 L156.1 855.4 L157.1 857.1 L158.1 859.1 L159.1 860.7 L160.1 861.4 L161.1 860.5 L162.1 858.5 L163.1 856.1 L164.1 854.1 L165.1 853.1 L166.1 852.7 L167.1 852.4 L168.1 851.7 L169.1 851.0 L170.1 850.3 L171.1 849.7 L172.1 849.2 L173.1 849.2 L174.1 849.7 L175.1 850.7 L176.1 852.4 L177.1 854.8 L178.1 857.9 L179.1 862.8 L180.1 869.7 L181.1 878.2 L182.1 888.3 L183.1 897.3 L184.1 904.2 L185.1 907.9 L186.1 908.6 L187.1 907.5 L188.1 906.0 L189.1 905.0 L190.1 904.8 L191.1 906.0 L192.1 908.1 L193.1 910.4 L194.1 912.5 L195.1 913.7 L196.1 913.3 L197.1 912.0 L198.1 909.9 L199.1 906.6 L200.1 902.4 L201.1 897.3 L202.1 891.8 L203.1 886.5 L204.1 881.7 L205.1 878.4 L206.1 876.7 L207.1 875.4 L208.1 874.2 L209.1 871.7 L210.1 867.5 L211.1 862.7 L212.1 859.5 L213.1 858.6 L214.1 860.1 L215.1 863.8 L216.1 867.7 L217.1 870.3 L218.1 871.3 L219.1 870.9 L220.1 868.8 L221.1 866.0 L222.1 862.7 L223.1 859.2 L224.1 855.8 L225.1 853.0 L226.1 852.0 L227.1 852.8 L228.1 855.3 L229.1 859.4 L230.1 863.9 L231.1 868.7 L232.1 873.6 L233.1 878.7 L234.1 883.5 L235.1 887.4 L236.1 890.2 L237.1 891.4 L238.1 889.7 L239.1 886.0 L240.1 881.3 L241.1 875.9 L242.1 871.7 L243.1 868.3 L244.1 867.3 L245.1 869.0 L246.1 870.9 L247.1 872.1 L248.1 870.7 L249.1 866.3 L250.1 862.0 L251.1 859.1 L252.1 857.7 L253.1 857.5 L254.1 858.4 L255.1 859.5 L256.1 860.8 L257.1 863.2 L258.1 867.0 L259.1 872.1 L260.1 878.3 L261.1 884.6 L262.1 889.0 L263.1 890.4 L264.1 888.8 L265.1 885.3 L266.1 881.8 L267.1 880.4 L268.1 882.0 L269.1 885.7 L270.1 891.1 L271.1 897.1 L272.1 901.0 L273.1 901.7 L274.1 899.0 L275.1 892.6 L276.1 884.5 L277.1 877.0 L278.1 870.8 L279.1 867.4 L280.1 866.6 L281.1 868.7 L282.1 873.6 L283.1 879.6 L284.1 883.7 L285.1 884.0 L286.1 879.8 L287.1 871.3 L288.1 862.4 L289.1 855.5 L290.1 851.0 L291.1 849.0 L292.1 848.7 L293.1 848.2 L294.1 847.6 L295.1 846.9 L296.1 846.7 L297.1 847.3 L298.1 848.6 L299.1 851.0 L300.1 854.0 L301.1 856.9 L302.1 858.8 L303.1 859.4 L304.1 858.6 L305.1 857.8 L306.1 858.3 L307.1 861.2 L308.1 866.4 L309.1 873.1 L310.1 880.5 L311.1 887.5 L312.1 893.8 L313.1 896.4 L314.1 895.1 L315.1 890.6 L316.1 884.3 L317.1 880.5 L318.1 880.6 L319.1 885.9 L320.1 894.7 L321.1 902.1 L322.1 907.0 L323.1 907.3 L324.1 903.5 L325.1 898.9 L326.1 893.9 L327.1 888.9 L328.1 884.9 L329.1 882.7 L330.1 883.4 L331.1 886.7 L332.1 891.7 L333.1 895.6 L334.1 896.4 L335.1 894.0 L336.1 889.5 L337.1 885.4 L338.1 882.6 L339.1 881.8 L340.1 882.2 L341.1 883.2 L342.1 883.2 L343.1 881.3 L344.1 877.7 L345.1 872.6 L346.1 867.7 L347.1 864.9 L348.1 864.3 L349.1 865.7 L350.1 867.6 L351.1 868.2 L352.1 867.3 L353.1 865.3 L354.1 864.9 L355.1 866.5 L356.1 870.0 L357.1 875.2 L358.1 880.7 L359.1 886.3 L360.1 889.7 L361.1 888.8 L362.1 883.5 L363.1 875.1 L364.1 866.2 L365.1 859.0 L366.1 854.7 L367.1 852.1 L368.1 850.8 L369.1 850.8 L370.1 851.3 L371.1 852.1 L372.1 853.3 L373.1 854.1 L374.1 854.2 L375.1 855.1 L376.1 857.2 L377.1 860.7 L378.1 865.2 L379.1 869.1 L380.1 871.2 L381.1 871.1 L382.1 869.3 L383.1 867.2 L384.1 866.6 L385.1 868.0 L386.1 871.6 L387.1 876.0 L388.1 880.6 L389.1 883.5 L390.1 883.8 L391.1 881.1 L392.1 875.6 L393.1 870.0 L394.1 866.7 L395.1 865.9 L396.1 869.0 L397.1 874.6 L398.1 878.4 L399.1 879.2 L400.1 876.0 L401.1 869.2 L402.1 861.9 L403.1 856.7 L404.1 854.0 L405.1 853.0 L406.1 853.4 L407.1 853.9 L408.1 854.4 L409.1 855.5 L410.1 857.9 L411.1 861.0 L412.1 864.6 L413.1 866.9 L414.1 866.9 L415.1 865.0 L416.1 862.9 L417.1 862.6 L418.1 864.4 L419.1 868.0 L420.1 871.6 L421.1 873.4 L422.1 873.3 L423.1 871.2 L424.1 867.0 L425.1 862.4 L426.1 858.0 L427.1 854.4 L428.1 851.6 L429.1 850.2 L430.1 849.8 L431.1 849.8 L432.1 850.5 L433.1 851.2 L434.1 851.7 L435.1 852.2 L436.1 852.6 L437.1 853.6 L438.1 855.3 L439.1 858.3 L440.1 863.6 L441.1 870.9 L442.1 879.5 L443.1 888.4 L444.1 896.3 L445.1 902.3 L446.1 905.9 L447.1 906.2 L448.1 902.6 L449.1 896.2 L450.1 887.4 L451.1 878.2 L452.1 869.0 L453.1 862.0 L454.1 858.0 L455.1 857.0 L456.1 859.0 L457.1 862.1 L458.1 866.0 L459.1 871.9 L460.1 880.0 L461.1 889.5 L462.1 898.9 L463.1 901.4 L464.1 896.2 L465.1 883.6 L466.1 868.4 L467.1 856.6 L468.1 849.5 L469.1 847.4 L470.1 847.6 L471.1 849.6 L472.1 852.0 L473.1 854.6 L474.1 855.9 L475.1 855.5 L476.1 854.1 L477.1 853.4 L478.1 854.5 L479.1 857.9 L480.1 863.2 L481.1 868.9 L482.1 872.8 L483.1 873.6 L484.1 871.3 L485.1 865.9 L486.1 859.9 L487.1 854.5 L488.1 850.8 L489.1 848.7 L490.1 847.9 L491.1 848.3 L492.1 849.0 L493.1 849.8 L494.1 850.7 L495.1 851.9 L496.1 854.8 L497.1 859.8 L498.1 867.1 L499.1 877.0 L500.1 887.1 L501.1 895.8 L502.1 902.1 L503.1 905.1 L504.1 905.6 L505.1 904.8 L506.1 902.8 L507.1 899.8 L508.1 895.8 L509.1 891.1 L510.1 886.2 L511.1 881.4 L512.1 876.9 L513.1 874.7 L514.1 875.1 L515.1 878.0 L516.1 883.1 L517.1 888.3 L518.1 893.1 L519.1 897.5 L520.1 901.5 L521.1 905.2 L522.1 908.9 L523.1 912.5 L524.1 914.7 L525.1 915.2 L526.1 913.8 L527.1 909.8 L528.1 904.6 L529.1 898.2 L530.1 891.0 L531.1 883.6 L532.1 876.9 L533.1 871.4 L534.1 867.3 L535.1 865.6 L536.1 866.6 L537.1 869.5 L538.1 875.2 L539.1 882.8 L540.1 891.0 L541.1 899.5 L542.1 907.2 L543.1 912.3 L544.1 914.8 L545.1 914.1 L546.1 909.1 L547.1 901.4 L548.1 891.8 L549.1 881.5 L550.1 872.3 L551.1 865.2 L552.1 859.7 L553.1 856.1 L554.1 853.8 L555.1 852.0 L556.1 850.6 L557.1 849.5 L558.1 848.5 L559.1 847.9 L560.1 847.9 L561.1 848.4 L562.1 849.7 L563.1 851.8 L564.1 854.6 L565.1 858.0 L566.1 861.8 L567.1 865.6 L568.1 868.6 L569.1 870.7 L570.1 871.9 L571.1 872.3 L572.1 871.8 L573.1 869.9 L574.1 866.7 L575.1 862.1 L576.1 857.0 L577.1 853.9 L578.1 853.2 L579.1 855.8 L580.1 862.4 L581.1 871.0 L582.1 880.8 L583.1 889.7 L584.1 895.3 L585.1 898.0 L586.1 897.9 L587.1 897.2 L588.1 897.1 L589.1 897.8 L590.1 899.2 L591.1 900.8 L592.1 902.1 L593.1 903.0 L594.1 903.3 L595.1 902.7 L596.1 900.3 L597.1 895.8 L598.1 888.0 L599.1 877.8 L600.1 866.8 L601.1 857.4 L602.1 851.8 L603.1 849.6 L604.1 850.2 L605.1 851.8 L606.1 853.1 L607.1 853.9 L608.1 854.1 L609.1 854.3 L610.1 854.8 L611.1 856.1 L612.1 858.2 L613.1 860.7 L614.1 863.1 L615.1 864.7 L616.1 864.9 L617.1 863.8 L618.1 861.4 L619.1 858.4 L620.1 855.8 L621.1 854.1 L622.1 853.2 L623.1 853.1 L624.1 853.6 L625.1 854.6 L626.1 855.9 L627.1 858.5 L628.1 864.0 L629.1 872.1 L630.1 882.7 L631.1 893.7 L632.1 902.3 L633.1 906.8 L634.1 906.8 L635.1 903.5 L636.1 897.6 L637.1 891.0 L638.1 884.5 L639.1 878.6 L640.1 873.8 L641.1 871.5 L642.1 871.2 L643.1 872.8 L644.1 876.7 L645.1 881.4 L646.1 886.8 L647.1 892.3 L648.1 897.6 L649.1 902.4 L650.1 905.2 L651.1 905.7 L652.1 904.1 L653.1 899.9 L654.1 894.9 L655.1 889.4 L656.1 883.9 L657.1 878.7 L658.1 874.5 L659.1 873.5 L660.1 876.0 L661.1 882.9 L662.1 893.4 L663.1 902.4 L664.1 908.6 L665.1 911.4 L666.1 911.6 L667.1 911.6 L668.1 911.2 L669.1 909.9 L670.1 907.5 L671.1 904.5 L672.1 901.8 L673.1 899.6 L674.1 898.5 L675.1 898.5 L676.1 899.4 L677.1 901.4 L678.1 903.5 L679.1 905.8 L680.1 908.0 L681.1 909.1 L682.1 908.7 L683.1 906.7 L684.1 903.0 L685.1 897.6 L686.1 891.1 L687.1 882.7 L688.1 872.9 L689.1 864.1 L690.1 857.3 L691.1 854.4 L692.1 855.3 L693.1 858.8 L694.1 864.0 L695.1 869.9 L696.1 876.6 L697.1 884.0 L698.1 891.8 L699.1 899.9 L700.1 906.8 L701.1 909.4 L702.1 907.1 L703.1 900.1 L704.1 890.7 L705.1 882.2 L706.1 875.8 L707.1 873.8 L708.1 875.0 L709.1 879.1 L710.1 885.2 L711.1 891.0 L712.1 895.6 L713.1 898.8 L714.1 899.4 L715.1 897.2 L716.1 891.7 L717.1 882.9 L718.1 873.2 L719.1 863.5 L720.1 856.3 L721.1 852.0 L722.1 849.7 L723.1 849.3 L724.1 849.7 L725.1 850.6 L726.1 851.9 L727.1 853.3 L728.1 854.8 L729.1 856.8 L730.1 860.7 L731.1 867.0 L732.1 876.4 L733.1 888.3 L734.1 899.5 L735.1 908.4 L736.1 913.7 L737.1 915.1 L738.1 913.7 L739.1 910.9 L740.1 906.9 L741.1 902.6 L742.1 898.5 L743.1 896.2 L744.1 896.1 L745.1 897.6 L746.1 900.7 L747.1 903.4 L748.1 905.5 L749.1 907.1 L750.1 908.3 L751.1 909.1 L752.1 910.4 L753.1 912.4 L754.1 915.0 L755.1 917.0 L756.1 917.7 L757.1 917.0 L758.1 914.9 L759.1 912.5 L760.1 910.0 L761.1 907.3 L762.1 904.7 L763.1 902.2 L764.1 899.9 L765.1 898.4 L766.1 897.5 L767.1 897.3 L768.1 897.4 L769.1 897.1 L770.1 896.3 L771.1 895.3 L772.1 895.1 L773.1 895.9 L774.1 897.6 L775.1 899.8 L776.1 901.8 L777.1 904.1 L778.1 907.6 L779.1 911.3 L780.1 914.7 L781.1 917.0 L782.1 917.9 L783.1 918.3 L784.1 918.9 L785.1 918.9 L786.1 918.0 L787.1 915.5 L788.1 910.1 L789.1 903.0 L790.1 895.2 L791.1 890.1 L792.1 888.8 L793.1 889.6 L794.1 890.5 L795.1 888.4 L796.1 882.1 L797.1 875.8 L798.1 871.9 L799.1 871.1 L800.1 874.7 L801.1 878.6 L802.1 879.0 L803.1 875.7 L804.1 869.1 L805.1 860.7 L806.1 855.6 L807.1 853.8 L808.1 854.8 L809.1 857.6 L810.1 859.9 L811.1 861.4 L812.1 861.9 L813.1 861.7 L814.1 861.6 L815.1 862.5 L816.1 864.5 L817.1 866.8 L818.1 868.1 L819.1 867.6 L820.1 865.3 L821.1 862.5 L822.1 859.5 L823.1 857.6 L824.1 857.0 L825.1 858.6 L826.1 863.6 L827.1 870.7 L828.1 879.5 L829.1 889.4 L830.1 897.5 L831.1 903.8 L832.1 907.6 L833.1 908.8 L834.1 908.5 L835.1 907.0 L836.1 904.4 L837.1 901.0 L838.1 896.7 L839.1 891.2 L840.1 885.0 L841.1 878.4 L842.1 872.0 L843.1 867.6 L844.1 866.9 L845.1 869.8 L846.1 877.1 L847.1 887.1 L848.1 897.1 L849.1 906.7 L850.1 913.4 L851.1 917.0 L852.1 918.2 L853.1 917.5 L854.1 915.7 L855.1 912.2 L856.1 907.2 L857.1 900.6 L858.1 893.1 L859.1 886.2 L860.1 880.8 L861.1 878.0 L862.1 878.5 L863.1 881.8 L864.1 886.5 L865.1 891.3 L866.1 893.6 L867.1 893.0 L868.1 889.9 L869.1 885.3 L870.1 881.1 L871.1 877.9 L872.1 875.1 L873.1 871.5 L874.1 866.8 L875.1 862.0 L876.1 857.9 L877.1 855.2 L878.1 854.6 L879.1 855.1 L880.1 856.5 L881.1 859.2 L882.1 862.7 L883.1 867.6 L884.1 873.9 L885.1 881.1 L886.1 888.7 L887.1 896.0 L888.1 901.7 L889.1 905.2 L890.1 907.1 L891.1 907.2 L892.1 907.1 L893.1 907.4 L894.1 907.6 L895.1 906.6 L896.1 903.9 L897.1 898.7 L898.1 891.3 L899.1 882.9 L900.1 874.1 L901.1 865.9 L902.1 859.5 L903.1 855.8 L904.1 854.9 L905.1 856.8 L906.1 860.5 L907.1 864.4 L908.1 866.5 L909.1 866.7 L910.1 867.7 L911.1 870.9 L912.1 877.2 L913.1 886.6 L914.1 896.0 L915.1 903.2 L916.1 907.0 L917.1 907.6 L918.1 906.0 L919.1 903.5 L920.1 901.4 L921.1 899.9 L922.1 898.0 L923.1 895.5 L924.1 891.7 L925.1 885.5 L926.1 877.2 L927.1 868.6 L928.1 860.7 L929.1 854.9 L930.1 851.4 L931.1 849.1 L932.1 847.4 L933.1 846.8 L934.1 847.0 L935.1 847.8 L936.1 849.2 L937.1 850.5 L938.1 851.6 L939.1 852.4 L940.1 853.7 L941.1 856.0 L942.1 859.5 L943.1 864.1 L944.1 868.3 L945.1 871.1 L946.1 872.4 L947.1 872.1 L948.1 871.0 L949.1 870.8 L950.1 872.1 L951.1 875.5 L952.1 882.0 L953.1 890.4 L954.1 896.1 L955.1 897.0 L956.1 892.3 L957.1 883.1 L958.1 873.8 L959.1 868.1 L960.1 866.2 L961.1 867.0 L962.1 870.4 L963.1 874.2 L964.1 878.2 L965.1 882.5 L966.1 887.1 L967.1 892.1 L968.1 897.7 L969.1 903.7 L970.1 910.1 L971.1 913.3 L972.1 911.9 L973.1 905.8 L974.1 895.3 L975.1 884.3 L976.1 875.0 L977.1 867.2 L978.1 861.8 L979.1 858.3 L980.1 856.0 L981.1 856.0 L982.1 857.5 L983.1 860.4 L984.1 864.5 L985.1 868.9 L986.1 871.6 L987.1 872.2 L988.1 870.4 L989.1 866.7 L990.1 863.1 L991.1 860.9 L992.1 860.0 L993.1 860.1 L994.1 860.1 L995.1 859.0 L996.1 857.1 L997.1 854.9 L998.1 853.2 L999.1 853.9 L1000.1 857.6 L1001.1 865.1 L1002.1 876.2 L1003.1 888.8 L1004.1 900.1 L1005.1 907.8 L1006.1 911.1 L1007.1 910.6 L1008.1 908.3 L1009.1 905.1 L1010.1 901.5 L1011.1 897.5 L1012.1 893.1 L1013.1 890.2 L1014.1 890.6 L1015.1 893.9 L1016.1 900.2 L1017.1 905.5 L1018.1 907.8 L1019.1 907.3 L1020.1 904.3 L1021.1 900.4 L1022.1 896.4 L1023.1 892.2 L1024.1 888.1 L1025.1 884.4 L1026.1 881.2 L1027.1 878.3 L1028.1 875.7 L1029.1 873.0 L1030.1 870.3 L1031.1 867.9 L1032.1 867.1 L1033.1 868.1 L1034.1 870.9 L1035.1 875.6 L1036.1 881.0 L1037.1 887.0 L1038.1 893.8 L1039.1 900.8 L1040.1 907.0 L1041.1 910.4 L1042.1 910.0 L1043.1 905.8 L1044.1 898.3 L1045.1 889.4 L1046.1 880.1 L1047.1 871.1 L1048.1 864.0 L1049.1 859.6 L1050.1 858.2 L1051.1 859.1 L1052.1 860.7 L1053.1 862.1 L1054.1 863.0 L1055.1 863.9 L1056.1 866.6 L1057.1 871.3 L1058.1 877.9 L1059.1 886.0 L1060.1 891.5 L1061.1 893.8 L1062.1 893.2 L1063.1 890.9 L1064.1 889.5 L1065.1 890.4 L1066.1 893.2 L1067.1 897.0 L1068.1 901.5 L1069.1 905.8 L1070.1 909.4 L1071.1 911.4 L1072.1 911.8 L1073.1 910.5 L1074.1 908.3 L1075.1 906.2 L1076.1 904.7 L1077.1 903.5 L1078.1 902.5 L1079.1 900.8 L1080.1 897.6 L1081.1 893.2 L1082.1 887.7 L1083.1 883.8 L1084.1 883.4 L1085.1 886.5 L1086.1 892.8 L1087.1 899.1 L1088.1 904.2 L1089.1 907.4 L1090.1 908.3 L1091.1 908.1 L1092.1 906.8 L1093.1 904.1 L1094.1 900.6 L1095.1 897.0 L1096.1 893.8 L1097.1 891.9 L1098.1 892.3 L1099.1 894.1 L1100.1 897.3 L1101.1 901.3 L1102.1 905.3 L1103.1 908.0 L1104.1 908.7 L1105.1 907.1 L1106.1 902.0 L1107.1 894.9 L1108.1 886.7 L1109.1 878.1 L1110.1 873.1 L1111.1 871.9 L1112.1 874.4 L1113.1 880.7 L1114.1 888.0 L1115.1 892.9 L1116.1 894.4 L1117.1 892.3 L1118.1 887.4 L1119.1 883.1 L1120.1 881.8 L1121.1 883.4 L1122.1 887.4 L1123.1 893.6 L1124.1 900.1 L1125.1 906.3 L1126.1 911.7 L1127.1 914.4 L1128.1 914.5 L1129.1 912.1 L1130.1 906.9 L1131.1 900.3 L1132.1 892.7 L1133.1 884.2 L1134.1 876.0 L1135.1 868.9 L1136.1 863.6 L1137.1 860.4 L1138.1 858.9 L1139.1 858.1 L1140.1 857.9 L1141.1 857.7 L1142.1 857.6 L1143.1 857.5 L1144.1 857.1 L1145.1 856.2 L1146.1 854.9 L1147.1 853.9 L1148.1 853.7 L1149.1 854.5 L1150.1 857.0 L1151.1 861.1 L1152.1 866.4 L1153.1 872.7 L1154.1 878.9 L1155.1 882.5 L1156.1 883.1 L1157.1 881.3 L1158.1 877.4 L1159.1 874.5 L1160.1 873.4 L1161.1 873.4 L1162.1 872.8 L1163.1 870.7 L1164.1 867.0 L1165.1 862.3 L1166.1 858.4 L1167.1 856.8 L1168.1 857.6 L1169.1 860.7 L1170.1 866.0 L1171.1 871.8 L1172.1 877.9 L1173.1 883.7 L1174.1 888.8 L1175.1 892.9 L1176.1 894.0 L1177.1 892.5 L1178.1 888.5 L1179.1 882.3 L1180.1 876.2 L1181.1 872.3 L1182.1 871.2 L1183.1 873.0 L1184.1 877.5 L1185.1 882.7 L1186.1 887.9 L1187.1 890.8 L1188.1 890.9 L1189.1 887.9 L1190.1 881.8 L1191.1 875.1 L1192.1 869.7 L1193.1 865.9 L1194.1 864.7 L1195.1 866.2 L1196.1 869.1 L1197.1 874.2 L1198.1 881.3 L1199.1 889.8 L1200.1 898.8 L1201.1 907.2 L1202.1 912.2 L1203.1 913.3 L1204.1 911.5 L1205.1 906.8 L1206.1 901.0 L1207.1 894.9 L1208.1 888.1 L1209.1 880.4 L1210.1 872.1 L1211.1 864.1 L1212.1 857.0 L1213.1 852.1 L1214.1 849.5 L1215.1 848.2 L1216.1 848.0 L1217.1 847.9 L1218.1 847.9 L1219.1 848.0 L1220.1 848.3 L1221.1 848.8 L1222.1 849.5 L1223.1 850.4 L1224.1 851.3 L1225.1 852.4 L1226.1 853.7 L1227.1 855.1 L1228.1 856.6 L1229.1 857.6 L1230.1 857.8 L1231.1 857.1 L1232.1 855.7 L1233.1 854.0 L1234.1 852.9 L1235.1 853.1 L1236.1 854.4 L1237.1 858.7 L1238.1 867.0 L1239.1 877.1 L1240.1 887.7 L1241.1 896.7 L1242.1 900.1 L1243.1 899.6 L1244.1 896.3 L1245.1 891.1 L1246.1 886.0 L1247.1 881.3 L1248.1 878.9 L1249.1 879.1 L1250.1 881.8 L1251.1 887.1 L1252.1 891.8 L1253.1 893.5 L1254.1 892.3 L1255.1 888.2 L1256.1 884.9 L1257.1 885.1 L1258.1 889.2 L1259.1 897.0 L1260.1 905.2 L1261.1 911.1 L1262.1 913.3 L1263.1 911.6 L1264.1 907.2 L1265.1 901.5 L1266.1 895.8 L1267.1 890.2 L1268.1 886.3 L1269.1 884.8 L1270.1 885.2 L1271.1 887.3 L1272.1 889.2 L1273.1 890.4 L1274.1 890.8 L1275.1 890.8 L1276.1 891.9 L1277.1 894.0 L1278.1 897.1 L1279.1 900.7 L1280.1 903.1 L1281.1 901.3 L1282.1 895.3 L1283.1 885.2 L1284.1 873.0 L1285.1 862.7 L1286.1 855.6 L1287.1 852.2 L1288.1 851.7 L1289.1 853.0 L1290.1 854.9 L1291.1 856.6 L1292.1 858.4 L1293.1 860.9 L1294.1 864.7 L1295.1 869.7 L1296.1 876.2 L1297.1 883.3 L1298.1 890.3 L1299.1 897.1 L1300.1 903.4 L1301.1 908.5 L1302.1 911.3 L1303.1 911.8 L1304.1 910.2 L1305.1 907.3 L1306.1 904.2 L1307.1 901.3 L1308.1 899.0 L1309.1 897.3 L1310.1 896.1 L1311.1 895.2 L1312.1 894.2 L1313.1 893.0 L1314.1 892.6 L1315.1 893.5 L1316.1 895.7 L1317.1 898.9 L1318.1 902.1 L1319.1 903.8 L1320.1 903.7 L1321.1 901.8 L1322.1 897.0 L1323.1 890.2 L1324.1 882.1 L1325.1 873.2 L1326.1 864.7 L1327.1 858.7 L1328.1 855.3 L1329.1 854.3 L1330.1 856.6 L1331.1 860.9 L1332.1 866.8 L1333.1 874.2 L1334.1 881.6 L1335.1 888.1 L1336.1 894.0 L1337.1 899.1 L1338.1 903.2 L1339.1 906.9 L1340.1 908.8 L1341.1 908.9 L1342.1 907.4 L1343.1 904.0 L1344.1 899.7 L1345.1 894.8 L1346.1 889.9 L1347.1 885.5 L1348.1 882.1 L1349.1 879.6 L1350.1 878.0 L1351.1 876.9 L1352.1 877.2 L1353.1 879.1 L1354.1 882.2 L1355.1 886.5 L1356.1 890.8 L1357.1 895.0 L1358.1 898.8 L1359.1 902.2 L1360.1 905.2 L1361.1 907.8 L1362.1 909.0 L1363.1 908.6 L1364.1 906.6 L1365.1 902.8 L1366.1 898.3 L1367.1 893.5 L1368.1 888.7 L1369.1 884.2 L1370.1 880.1 L1371.1 875.3 L1372.1 869.6 L1373.1 863.8 L1374.1 858.8 L1375.1 855.5 L1376.1 854.0 L1377.1 855.4 L1378.1 859.5 L1379.1 867.1 L1380.1 877.8 L1381.1 888.4 L1382.1 897.6 L1383.1 903.5 L1384.1 906.0 L1385.1 906.3 L1386.1 903.4 L1387.1 898.6 L1388.1 891.4 L1389.1 881.7 L1390.1 872.4 L1391.1 865.8 L1392.1 862.9 L1393.1 864.1 L1394.1 868.7 L1395.1 874.5 L1396.1 881.2 L1397.1 888.3 L1398.1 893.6 L1399.1 896.4 L1400.1 896.9 L1401.1 896.8 L1402.1 898.2 L1403.1 898.2 L1404.1 895.5 L1405.1 888.9 L1406.1 878.0 L1407.1 866.7 L1408.1 858.9 L1409.1 855.3 L1410.1 855.7 L1411.1 859.5 L1412.1 863.8 L1413.1 867.9 L1414.1 871.2 L1415.1 873.4 L1416.1 874.5 L1417.1 873.9 L1418.1 871.8 L1419.1 868.5 L1420.1 864.4 L1421.1 860.8 L1422.1 858.2 L1423.1 856.6 L1424.1 856.1 L1425.1 856.1 L1426.1 856.6 L1427.1 857.6 L1428.1 859.9 L1429.1 863.9 L1430.1 869.3 L1431.1 873.7 L1432.1 875.3 L1433.1 876.4 L1434.1 877.4 L1435.1 880.7 L1436.1 886.5 L1437.1 892.4 L1438.1 896.7 L1439.1 899.5 L1440.1 900.9 L1441.1 900.9 L1442.1 900.7 L1443.1 900.5 L1444.1 898.9 L1445.1 895.0 L1446.1 889.0 L1447.1 882.9 L1448.1 880.0 L1449.1 881.4 L1450.1 887.1 L1451.1 895.2 L1452.1 901.8 L1453.1 904.9 L1454.1 904.2 L1455.1 899.3 L1456.1 892.3 L1457.1 885.8 L1458.1 880.7 L1459.1 877.0 L1460.1 876.1 L1461.1 877.7 L1462.1 881.1 L1463.1 886.2 L1464.1 891.6 L1465.1 895.2 L1466.1 896.7 L1467.1 896.4 L1468.1 895.3 L1469.1 895.1 L1470.1 896.3 L1471.1 898.6 L1472.1 901.3 L1473.1 903.7 L1474.1 904.5 L1475.1 903.8 L1476.1 901.4 L1477.1 897.7 L1478.1 893.9 L1479.1 890.3 L1480.1 888.4 L1481.1 888.8 L1482.1 891.6 L1483.1 896.8 L1484.1 902.6 L1485.1 907.6 L1486.1 911.3 L1487.1 913.6 L1488.1 914.2 L1489.1 914.1 L1490.1 913.5 L1491.1 912.5 L1492.1 911.9 L1493.1 911.9 L1494.1 912.3 L1495.1 912.7 L1496.1 912.4 L1497.1 911.4 L1498.1 909.5 L1499.1 905.5 L1500.1 899.6 L1501.1 892.0 L1502.1 883.2 L1503.1 875.9 L1504.1 870.6 L1505.1 868.3 L1506.1 870.2 L1507.1 875.2 L1508.1 882.7 L1509.1 891.3 L1510.1 898.5 L1511.1 904.3 L1512.1 908.3 L1513.1 910.0 L1514.1 910.2 L1515.1 909.2 L1516.1 906.8 L1517.1 903.9 L1518.1 900.5 L1519.1 896.5 L1520.1 892.2 L1521.1 887.7 L1522.1 882.8 L1523.1 877.1 L1524.1 870.7 L1525.1 864.6 L1526.1 859.1 L1527.1 855.4 L1528.1 853.5 L1529.1 852.6 L1530.1 852.7 L1531.1 853.6 L1532.1 855.3 L1533.1 857.7 L1534.1 860.2 L1535.1 861.6 L1536.1 862.0 L1537.1 860.8 L1538.1 858.7 L1539.1 856.7 L1540.1 855.5 L1541.1 855.3 L1542.1 856.3 L1543.1 858.2 L1544.1 860.5 L1545.1 863.3 L1546.1 866.1 L1547.1 868.5 L1548.1 870.2 L1549.1 871.3 L1550.1 872.0 L1551.1 872.5 L1552.1 874.2 L1553.1 877.7 L1554.1 882.6 L1555.1 888.5 L1556.1 892.2 L1557.1 891.8 L1558.1 888.5 L1559.1 883.1 L1560.1 878.4 L1561.1 877.7 L1562.1 880.0 L1563.1 884.7 L1564.1 890.9 L1565.1 896.8 L1566.1 901.9 L1567.1 905.8 L1568.1 907.3 L1569.1 906.1 L1570.1 902.8 L1571.1 897.4 L1572.1 891.0 L1573.1 884.3 L1574.1 877.5 L1575.1 871.2 L1576.1 866.4 L1577.1 863.1 L1578.1 860.9 L1579.1 859.3 L1580.1 857.2 L1581.1 854.6 L1582.1 852.0 L1583.1 850.0 L1584.1 848.7 L1585.1 848.3 L1586.1 848.4 L1587.1 849.0 L1588.1 850.1 L1589.1 851.3 L1590.1 852.6 L1591.1 854.1 L1592.1 855.8 L1593.1 857.5 L1594.1 859.9 L1595.1 864.0 L1596.1 870.0 L1597.1 877.4 L1598.1 885.5 L1599.1 890.2 L1600.1 890.4 L1601.1 886.1 L1602.1 877.2 L1603.1 867.1 L1604.1 859.6 L1605.1 855.6 L1606.1 855.5 L1607.1 859.3 L1608.1 864.3 L1609.1 870.1 L1610.1 874.9 L1611.1 877.6 L1612.1 877.9 L1613.1 875.8 L1614.1 873.3 L1615.1 872.9 L1616.1 875.0 L1617.1 879.5 L1618.1 886.3 L1619.1 893.4 L1620.1 899.5 L1621.1 904.0 L1622.1 906.9 L1623.1 908.4 L1624.1 907.2 L1625.1 903.1 L1626.1 896.5 L1627.1 888.4 L1628.1 880.9 L1629.1 875.0 L1630.1 873.2 L1631.1 875.4 L1632.1 881.5 L1633.1 891.0 L1634.1 900.1 L1635.1 907.4 L1636.1 910.6 L1637.1 909.2 L1638.1 904.4 L1639.1 896.3 L1640.1 887.2 L1641.1 878.1 L1642.1 870.1 L1643.1 863.7 L1644.1 861.3 L1645.1 862.8 L1646.1 868.0 L1647.1 876.5 L1648.1 886.0 L1649.1 895.7 L1650.1 903.8 L1651.1 909.0 L1652.1 911.7 L1653.1 912.0 L1654.1 910.2 L1655.1 907.3 L1656.1 903.3 L1657.1 898.7 L1658.1 894.2 L1659.1 891.3 L1660.1 891.1 L1661.1 893.3 L1662.1 897.4 L1663.1 902.4 L1664.1 906.5 L1665.1 908.5 L1666.1 908.4 L1667.1 906.5 L1668.1 903.3 L1669.1 900.8 L1670.1 900.1 L1671.1 901.1 L1672.1 903.3 L1673.1 906.4 L1674.1 909.3 L1675.1 911.9 L1676.1 912.9 L1677.1 912.2 L1678.1 909.6 L1679.1 904.9 L1680.1 899.4 L1681.1 893.1 L1682.1 886.6 L1683.1 880.2 L1684.1 874.1 L1685.1 869.1 L1686.1 865.0 L1687.1 862.1 L1688.1 861.3 L1689.1 861.8 L1690.1 863.7 L1691.1 868.1 L1692.1 874.7 L1693.1 883.4 L1694.1 894.0 L1695.1 903.8 L1696.1 910.0 L1697.1 912.0 L1698.1 909.9 L1699.1 905.3 L1700.1 900.2 L1701.1 895.5 L1702.1 891.0 L1703.1 886.3 L1704.1 881.2 L1705.1 875.7 L1706.1 870.2 L1707.1 865.3 L1708.1 862.1 L1709.1 861.6 L1710.1 863.3 L1711.1 867.3 L1712.1 871.4 L1713.1 873.4 L1714.1 873.4 L1715.1 871.1 L1716.1 868.5 L1717.1 870.4 L1718.1 875.9 L1719.1 884.5 L1720.1 895.0 L1721.1 903.1 L1722.1 907.7 L1723.1 909.3 L1724.1 909.0 L1725.1 907.6 L1726.1 907.2 L1727.1 908.5 L1728.1 910.8 L1729.1 913.6 L1730.1 915.8 L1731.1 916.6 L1732.1 915.8 L1733.1 913.7 L1734.1 911.2 L1735.1 908.5 L1736.1 905.1 L1737.1 901.4 L1738.1 897.5 L1739.1 893.9 L1740.1 892.0 L1741.1 892.8 L1742.1 895.5 L1743.1 897.5 L1744.1 897.4 L1745.1 894.0 L1746.1 887.7 L1747.1 881.7 L1748.1 877.0 L1749.1 873.8 L1750.1 872.7 L1751.1 873.4 L1752.1 875.2 L1753.1 878.1 L1754.1 881.3 L1755.1 883.1 L1756.1 882.1 L1757.1 878.8 L1758.1 873.6 L1759.1 870.0 L1760.1 869.2 L1761.1 871.2 L1762.1 876.8" stroke="#ff0000" stroke-width="1" fill="none"/>
<rect x="252" y="42" width="154" height="16" fill="#fff"/>
<text x="253.5" y="54" font-size="13.5" font-weight="bold" fill="#000" textLength="151" lengthAdjust="spacingAndGlyphs">ETHEREUM (ETH) USD</text>
<rect x="439" y="43" width="1106" height="14" fill="#fff"/>
<text x="440" y="52.5" font-size="12" font-family="Liberation Serif, serif" fill="#000" textLength="1103" lengthAdjust="spacingAndGlyphs">Haftungsausschluss für Inhalte: Alle Trendkanäle bzw. andere Linien, oder Grafiken hier sind keine Empfehlungen, oder Beratung, sondern die zeigen lediglich meine eigene Einschätzung. Alle Chartdaten sind ohne Gewähr.  www.wikifolio.com/de/de/p/cyberwaehrungen</text>
<line x1="0.0" y1="67.5" x2="417.0" y2="67.5" stroke="#ff6868" stroke-width="1" stroke-dasharray="3 3"/>
<line x1="622.0" y1="64.5" x2="1832.0" y2="64.5" stroke="#ff0000" stroke-width="1" stroke-dasharray="3 3"/>
<line x1="493.0" y1="141.5" x2="616.0" y2="141.5" stroke="#ff0000" stroke-width="1" stroke-dasharray="3 3"/>
<line x1="572.0" y1="197.5" x2="606.0" y2="197.5" stroke="#ff0000" stroke-width="1" stroke-dasharray="3 3"/>
<line x1="1232.0" y1="188.5" x2="1415.0" y2="188.5" stroke="#ff0000" stroke-width="1" stroke-dasharray="3 3"/>
<line x1="1415.0" y1="187.5" x2="1596.0" y2="187.5" stroke="#ff0000" stroke-width="1" stroke-dasharray="3 3"/>
<line x1="721.0" y1="272.5" x2="1270.0" y2="272.5" stroke="#ff6868" stroke-width="1" stroke-dasharray="3 3"/>
<line x1="1544.0" y1="383.5" x2="1619.0" y2="383.5" stroke="#ff6868" stroke-width="1" stroke-dasharray="3 3"/>
<line x1="1678.0" y1="290.5" x2="1754.0" y2="291.5" stroke="#ff6868" stroke-width="1" stroke-dasharray="3 3"/>
<line x1="565.4" y1="227.8" x2="645.0" y2="0.0" stroke="#ff6868" stroke-width="1" stroke-dasharray="2 3"/>
<line x1="770.0" y1="530.0" x2="1153.0" y2="484.4" stroke="#ff6868" stroke-width="1" stroke-dasharray="3 3"/>
<line x1="171.5" y1="163.4" x2="900.0" y2="0.0" stroke="#008080" stroke-width="1"/>
<line x1="621.0" y1="214.5" x2="653.0" y2="214.5" stroke="#00ff00" stroke-width="1" stroke-dasharray="3 3"/>
<line x1="567.0" y1="415.5" x2="690.0" y2="415.5" stroke="#00ff00" stroke-width="1" stroke-dasharray="3 3"/>
<line x1="520.0" y1="571.5" x2="1832.0" y2="571.5" stroke="#00ff00" stroke-width="1" stroke-dasharray="3 3"/>
<line x1="190.0" y1="835.5" x2="1832.0" y2="835.5" stroke="#00ff00" stroke-width="1" stroke-dasharray="3 3"/>
<line x1="565.4" y1="478.6" x2="656.0" y2="215.0" stroke="#00ff00" stroke-width="1" stroke-dasharray="2 3"/>
<line x1="4.0" y1="496.5" x2="1838.0" y2="496.5" stroke="#0000ff" stroke-width="1" stroke-dasharray="3 3"/>
<line x1="1557.0" y1="496.5" x2="1685.0" y2="496.5" stroke="#80ff00" stroke-width="1" stroke-dasharray="3 3"/>
<line x1="1670.0" y1="422.5" x2="1798.0" y2="423.5" stroke="#80ff00" stroke-width="1" stroke-dasharray="3 3"/>
<line x1="765.0" y1="690.0" x2="1153.0" y2="644.0" stroke="#00ff00" stroke-width="1" stroke-dasharray="3 3"/>
<line x1="173.7" y1="838.7" x2="1832.0" y2="456.4" stroke="#008000" stroke-width="1"/>
<line x1="906.7" y1="625.5" x2="1325.6" y2="63.5" stroke="#00ff00" stroke-width="1"/>
<line x1="950.6" y1="838.7" x2="1325.0" y2="337.0" stroke="#00ff00" stroke-width="1"/>
<line x1="883.0" y1="542.4" x2="1230.7" y2="428.4" stroke="#00ffff" stroke-width="1"/>
<line x1="883.2" y1="681.4" x2="1230.7" y2="566.4" stroke="#00ffff" stroke-width="1"/>
<line x1="1230.7" y1="190.7" x2="1801.6" y2="0.0" stroke="#8000ff" stroke-width="1"/>
<line x1="1228.5" y1="717.5" x2="1832.0" y2="509.7" stroke="#8000ff" stroke-width="1"/>
<line x1="1511.5" y1="464.0" x2="1600.7" y2="253.2" stroke="#00ff00" stroke-width="2"/>
<line x1="1511.1" y1="626.7" x2="1600.7" y2="412.7" stroke="#00ff00" stroke-width="2"/>
<line x1="1536.0" y1="404.0" x2="1621.0" y2="0.0" stroke="#008000" stroke-width="1"/>
<line x1="1535.8" y1="653.0" x2="1626.7" y2="213.7" stroke="#008000" stroke-width="1"/>
<path d="M1758 0 L1767 0 L1762.5 5 Z" fill="#22b422" shape-rendering="geometricPrecision"/>
<text x="489" y="133" font-size="12" fill="#1a8698" textLength="127" lengthAdjust="spacingAndGlyphs">Durchbruch nach oben!</text>
<text x="485" y="189" font-size="12" fill="#1a8698" textLength="127" lengthAdjust="spacingAndGlyphs">Durchbruch nach oben!</text>
<text x="1464" y="181" font-size="12" fill="#1a8698" textLength="127" lengthAdjust="spacingAndGlyphs">Durchbruch nach oben!</text>
<rect x="396" y="820" width="932" height="14" fill="#fff"/>
<text x="397" y="830" font-size="12" fill="#10108c" textLength="929" lengthAdjust="spacingAndGlyphs">- Stochastik-Oszillator - Ein Indikator, für erfahrene viel-Trader, schwankt zwischen Null und 100. Seine überverkaufte Zone, liegt unter 20 und die überkaufte Zone, über 80.</text>
<rect x="1838" y="489" width="77" height="14" fill="#0000ff"/>
<line x1="1838" y1="496.5" x2="1842" y2="496.5" stroke="#fff"/>
<text x="1843" y="501" font-size="12" fill="#fff">2183.65</text>
<text x="1843" y="869" font-size="12" fill="#000">75.00</text>
<text x="1843" y="890" font-size="12" fill="#000">50.000</text>
<text x="1843" y="910.5" font-size="12" fill="#000">25.000</text>
<rect x="1838" y="872" width="77" height="14" fill="#ff0000"/>
<line x1="1838" y1="879.5" x2="1842" y2="879.5" stroke="#fff"/>
<text x="1843" y="884" font-size="12" fill="#fff">54.86</text>
<rect x="1838" y="888" width="77" height="14" fill="#000"/>
<line x1="1838" y1="895.5" x2="1842" y2="895.5" stroke="#fff"/>
<text x="1843" y="900" font-size="12" fill="#fff">40.035</text>
<line x1="1838" y1="928.5" x2="1841" y2="928.5" stroke="#c0c0c0"/>
<text x="816" y="858.5" font-size="12" fill="#111">80.000</text>
<text x="1182" y="883.5" font-size="12" fill="#111">50.000</text>
<text x="1549" y="910" font-size="12" fill="#111">20.000</text>
<rect x="5.5" y="844.5" width="47" height="14" fill="#fff" stroke="#000"/>
<text x="8" y="856" font-size="12" fill="#000">Sto(9/5)</text>
<rect x="55.5" y="844.5" width="12" height="13" fill="#fff" stroke="#000"/>
<path d="M57 851h9M61.5 846.5v9" stroke="#000" stroke-width="2" fill="none"/>
<rect x="7" y="862" width="22" height="12" fill="#fff"/>
<rect x="8" y="876" width="21" height="11" fill="#fff"/>
<text x="8" y="871" font-size="12" fill="#000">%K</text>
<text x="8" y="886" font-size="12" fill="#ff0000">%D</text>
<rect x="1905.5" y="17.5" width="9" height="9" fill="#fff" stroke="#b0b0b0"/>
<line x1="1907" y1="22.5" x2="1913" y2="22.5" stroke="#b0b0b0"/>
<line x1="4.5" y1="932" x2="4.5" y2="947" stroke="#c0c0c0"/>
<line x1="77.5" y1="932" x2="77.5" y2="947" stroke="#c0c0c0"/>
<line x1="121.5" y1="932" x2="121.5" y2="947" stroke="#c0c0c0"/>
<text x="121.5" y="944.5" font-size="12" text-anchor="middle" fill="#000" xml:space="preserve">12 19</text>
<line x1="163.5" y1="932" x2="163.5" y2="947" stroke="#c0c0c0"/>
<text x="163.5" y="944.5" font-size="12" text-anchor="middle" fill="#000" xml:space="preserve">02 20</text>
<line x1="205.5" y1="932" x2="205.5" y2="947" stroke="#c0c0c0"/>
<text x="205.5" y="944.5" font-size="12" text-anchor="middle" fill="#000" xml:space="preserve">04 20</text>
<line x1="248.5" y1="932" x2="248.5" y2="947" stroke="#c0c0c0"/>
<text x="248.5" y="944.5" font-size="12" text-anchor="middle" fill="#000" xml:space="preserve">06 20</text>
<line x1="293.5" y1="932" x2="293.5" y2="947" stroke="#c0c0c0"/>
<text x="293.5" y="944.5" font-size="12" text-anchor="middle" fill="#000" xml:space="preserve">08 20</text>
<line x1="336.5" y1="932" x2="336.5" y2="947" stroke="#c0c0c0"/>
<text x="336.5" y="944.5" font-size="12" text-anchor="middle" fill="#000" xml:space="preserve">10 20</text>
<line x1="379.5" y1="932" x2="379.5" y2="947" stroke="#c0c0c0"/>
<text x="379.5" y="944.5" font-size="12" text-anchor="middle" fill="#000" xml:space="preserve">12 20</text>
<line x1="423.5" y1="932" x2="423.5" y2="947" stroke="#c0c0c0"/>
<text x="423.5" y="944.5" font-size="12" text-anchor="middle" fill="#000" xml:space="preserve">02 21</text>
<line x1="465.5" y1="932" x2="465.5" y2="947" stroke="#c0c0c0"/>
<text x="465.5" y="944.5" font-size="12" text-anchor="middle" fill="#000" xml:space="preserve">04 21</text>
<line x1="508.5" y1="932" x2="508.5" y2="947" stroke="#c0c0c0"/>
<text x="508.5" y="944.5" font-size="12" text-anchor="middle" fill="#000" xml:space="preserve">06 21</text>
<line x1="552.5" y1="932" x2="552.5" y2="947" stroke="#c0c0c0"/>
<text x="552.5" y="944.5" font-size="12" text-anchor="middle" fill="#000" xml:space="preserve">08 21</text>
<line x1="596.5" y1="932" x2="596.5" y2="947" stroke="#c0c0c0"/>
<text x="596.5" y="944.5" font-size="12" text-anchor="middle" fill="#000" xml:space="preserve">10 21</text>
<line x1="639.5" y1="932" x2="639.5" y2="947" stroke="#c0c0c0"/>
<text x="639.5" y="944.5" font-size="12" text-anchor="middle" fill="#000" xml:space="preserve">12 21</text>
<line x1="683.5" y1="932" x2="683.5" y2="947" stroke="#c0c0c0"/>
<text x="683.5" y="944.5" font-size="12" text-anchor="middle" fill="#000" xml:space="preserve">02 22</text>
<line x1="726.5" y1="932" x2="726.5" y2="947" stroke="#c0c0c0"/>
<text x="726.5" y="944.5" font-size="12" text-anchor="middle" fill="#000" xml:space="preserve">04 22</text>
<line x1="769.5" y1="932" x2="769.5" y2="947" stroke="#c0c0c0"/>
<text x="769.5" y="944.5" font-size="12" text-anchor="middle" fill="#000" xml:space="preserve">06 22</text>
<line x1="812.5" y1="932" x2="812.5" y2="947" stroke="#c0c0c0"/>
<text x="812.5" y="944.5" font-size="12" text-anchor="middle" fill="#000" xml:space="preserve">08 22</text>
<line x1="857.5" y1="932" x2="857.5" y2="947" stroke="#c0c0c0"/>
<text x="857.5" y="944.5" font-size="12" text-anchor="middle" fill="#000" xml:space="preserve">10 22</text>
<line x1="900.5" y1="932" x2="900.5" y2="947" stroke="#c0c0c0"/>
<text x="900.5" y="944.5" font-size="12" text-anchor="middle" fill="#000" xml:space="preserve">12 22</text>
<line x1="944.5" y1="932" x2="944.5" y2="947" stroke="#c0c0c0"/>
<text x="944.5" y="944.5" font-size="12" text-anchor="middle" fill="#000" xml:space="preserve">02 23</text>
<line x1="987.5" y1="932" x2="987.5" y2="947" stroke="#c0c0c0"/>
<text x="987.5" y="944.5" font-size="12" text-anchor="middle" fill="#000" xml:space="preserve">04 23</text>
<line x1="1030.5" y1="932" x2="1030.5" y2="947" stroke="#c0c0c0"/>
<text x="1030.5" y="944.5" font-size="12" text-anchor="middle" fill="#000" xml:space="preserve">06 23</text>
<line x1="1073.5" y1="932" x2="1073.5" y2="947" stroke="#c0c0c0"/>
<text x="1073.5" y="944.5" font-size="12" text-anchor="middle" fill="#000" xml:space="preserve">08 23</text>
<line x1="1117.5" y1="932" x2="1117.5" y2="947" stroke="#c0c0c0"/>
<text x="1117.5" y="944.5" font-size="12" text-anchor="middle" fill="#000" xml:space="preserve">10 23</text>
<line x1="1161.5" y1="932" x2="1161.5" y2="947" stroke="#c0c0c0"/>
<text x="1161.5" y="944.5" font-size="12" text-anchor="middle" fill="#000" xml:space="preserve">12 23</text>
<line x1="1205.5" y1="932" x2="1205.5" y2="947" stroke="#c0c0c0"/>
<text x="1205.5" y="944.5" font-size="12" text-anchor="middle" fill="#000" xml:space="preserve">02 24</text>
<line x1="1247.5" y1="932" x2="1247.5" y2="947" stroke="#c0c0c0"/>
<text x="1247.5" y="944.5" font-size="12" text-anchor="middle" fill="#000" xml:space="preserve">04 24</text>
<line x1="1292.5" y1="932" x2="1292.5" y2="947" stroke="#c0c0c0"/>
<text x="1292.5" y="944.5" font-size="12" text-anchor="middle" fill="#000" xml:space="preserve">06 24</text>
<line x1="1335.5" y1="932" x2="1335.5" y2="947" stroke="#c0c0c0"/>
<text x="1335.5" y="944.5" font-size="12" text-anchor="middle" fill="#000" xml:space="preserve">08 24</text>
<line x1="1377.5" y1="932" x2="1377.5" y2="947" stroke="#c0c0c0"/>
<text x="1377.5" y="944.5" font-size="12" text-anchor="middle" fill="#000" xml:space="preserve">10 24</text>
<line x1="1421.5" y1="932" x2="1421.5" y2="947" stroke="#c0c0c0"/>
<text x="1421.5" y="944.5" font-size="12" text-anchor="middle" fill="#000" xml:space="preserve">12 24</text>
<line x1="1466.5" y1="932" x2="1466.5" y2="947" stroke="#c0c0c0"/>
<text x="1466.5" y="944.5" font-size="12" text-anchor="middle" fill="#000" xml:space="preserve">02 25</text>
<line x1="1507.5" y1="932" x2="1507.5" y2="947" stroke="#c0c0c0"/>
<text x="1507.5" y="944.5" font-size="12" text-anchor="middle" fill="#000" xml:space="preserve">04 25</text>
<line x1="1551.5" y1="932" x2="1551.5" y2="947" stroke="#c0c0c0"/>
<text x="1551.5" y="944.5" font-size="12" text-anchor="middle" fill="#000" xml:space="preserve">06 25</text>
<line x1="1595.5" y1="932" x2="1595.5" y2="947" stroke="#c0c0c0"/>
<text x="1595.5" y="944.5" font-size="12" text-anchor="middle" fill="#000" xml:space="preserve">08 25</text>
<line x1="1638.5" y1="932" x2="1638.5" y2="947" stroke="#c0c0c0"/>
<text x="1638.5" y="944.5" font-size="12" text-anchor="middle" fill="#000" xml:space="preserve">10 25</text>
<line x1="1681.5" y1="932" x2="1681.5" y2="947" stroke="#c0c0c0"/>
<text x="1681.5" y="944.5" font-size="12" text-anchor="middle" fill="#000" xml:space="preserve">12 25</text>
<line x1="1726.5" y1="932" x2="1726.5" y2="947" stroke="#c0c0c0"/>
<text x="1726.5" y="944.5" font-size="12" text-anchor="middle" fill="#000" xml:space="preserve">02 26</text>
<line x1="1768.5" y1="932" x2="1768.5" y2="947" stroke="#c0c0c0"/>
<text x="1768.5" y="944.5" font-size="12" text-anchor="middle" fill="#000" xml:space="preserve">04 26</text>
<text x="11" y="944.5" font-size="12" fill="#000">25.03.26</text>
<text x="82" y="944.5" font-size="12" fill="#000">I9</text>
<text x="1827" y="944.5" font-size="12" fill="#000">-</text>
<rect x="0" y="0" width="1916" height="1" fill="#000"/>
<rect x="0" y="0" width="1" height="948" fill="#000"/>
<rect x="1915" y="0" width="1" height="948" fill="#000"/>
<rect x="0" y="947" width="1916" height="1" fill="#000"/>
</svg>
</body></html>
